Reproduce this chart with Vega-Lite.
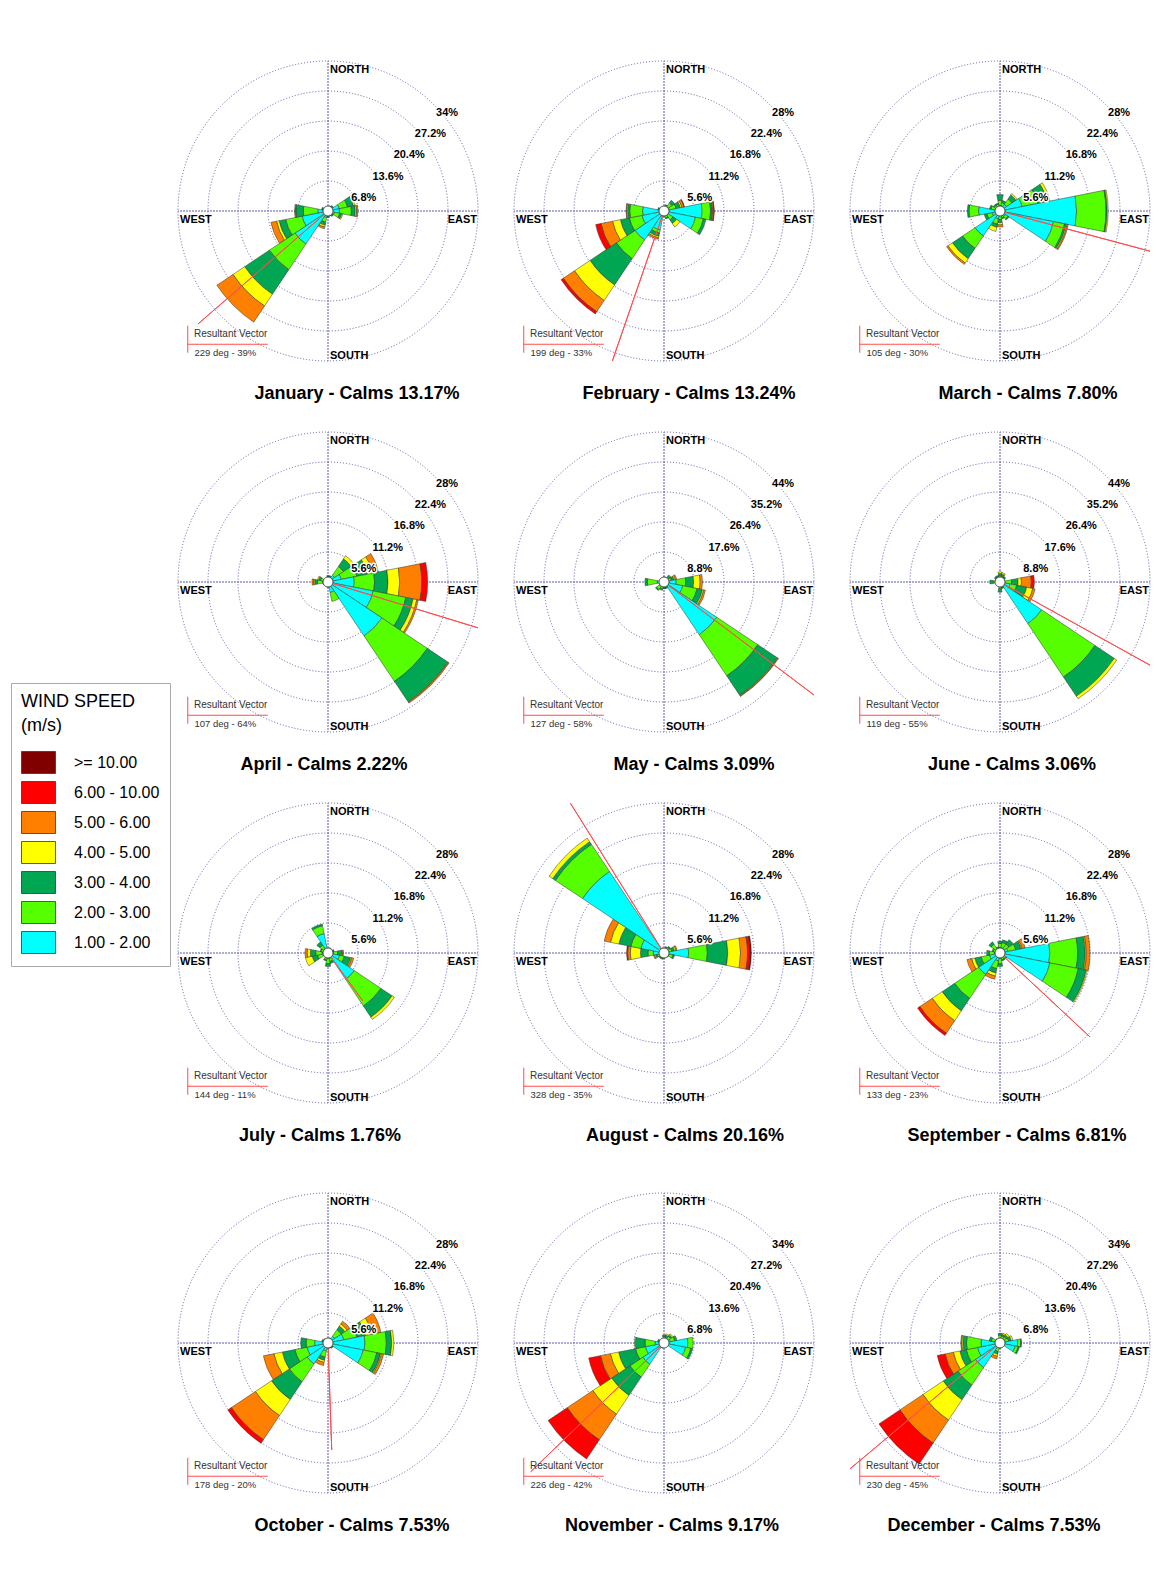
{
"$schema": "https://vega.github.io/schema/vega-lite/v6.json",
"background": "white",
"padding": {"left": 10, "top": 59, "right": 0, "bottom": 0},
"autosize": {"type": "pad"},
"bounds": "full",
"spacing": 46,
"datasets": {
"dirs": [{"d":"N","a0":-11.25,"a1":11.25},{"d":"NNE","a0":11.25,"a1":33.75},{"d":"NE","a0":33.75,"a1":56.25},{"d":"ENE","a0":56.25,"a1":78.75},{"d":"E","a0":78.75,"a1":101.25},{"d":"ESE","a0":101.25,"a1":123.75},{"d":"SE","a0":123.75,"a1":146.25},{"d":"SSE","a0":146.25,"a1":168.75},{"d":"S","a0":168.75,"a1":191.25},{"d":"SSW","a0":191.25,"a1":213.75},{"d":"SW","a0":213.75,"a1":236.25},{"d":"WSW","a0":236.25,"a1":258.75},{"d":"W","a0":258.75,"a1":281.25},{"d":"WNW","a0":281.25,"a1":303.75},{"d":"NW","a0":303.75,"a1":326.25},{"d":"NNW","a0":326.25,"a1":348.75}],
"classes": [{"s":1,"cls":"1.00 - 2.00"},{"s":2,"cls":"2.00 - 3.00"},{"s":3,"cls":"3.00 - 4.00"},{"s":4,"cls":"4.00 - 5.00"},{"s":5,"cls":"5.00 - 6.00"},{"s":6,"cls":"6.00 - 10.00"},{"s":7,"cls":">= 10.00"}],
"rings": [{"g":34,"r":6.8,"lab":"6.8%"},{"g":34,"r":13.6,"lab":"13.6%"},{"g":34,"r":20.4,"lab":"20.4%"},{"g":34,"r":27.2,"lab":"27.2%"},{"g":34,"r":34,"lab":"34%"},{"g":28,"r":5.6,"lab":"5.6%"},{"g":28,"r":11.2,"lab":"11.2%"},{"g":28,"r":16.8,"lab":"16.8%"},{"g":28,"r":22.4,"lab":"22.4%"},{"g":28,"r":28,"lab":"28%"},{"g":44,"r":8.8,"lab":"8.8%"},{"g":44,"r":17.6,"lab":"17.6%"},{"g":44,"r":26.4,"lab":"26.4%"},{"g":44,"r":35.2,"lab":"35.2%"},{"g":44,"r":44,"lab":"44%"}],
"compass": [{"lab":"NORTH","a":0},{"lab":"EAST","a":90},{"lab":"SOUTH","a":180},{"lab":"WEST","a":270}],
"rv": [{"m":1,"deg":229,"pct":39,"lab":"229 deg - 39%"},{"m":2,"deg":199,"pct":33,"lab":"199 deg - 33%"},{"m":3,"deg":105,"pct":30,"lab":"105 deg - 30%"},{"m":4,"deg":107,"pct":64,"lab":"107 deg - 64%"},{"m":5,"deg":127,"pct":58,"lab":"127 deg - 58%"},{"m":6,"deg":119,"pct":55,"lab":"119 deg - 55%"},{"m":7,"deg":144,"pct":11,"lab":"144 deg - 11%"},{"m":8,"deg":328,"pct":35,"lab":"328 deg - 35%"},{"m":9,"deg":133,"pct":23,"lab":"133 deg - 23%"},{"m":10,"deg":178,"pct":20,"lab":"178 deg - 20%"},{"m":11,"deg":226,"pct":42,"lab":"226 deg - 42%"},{"m":12,"deg":230,"pct":45,"lab":"230 deg - 45%"}],
"wind": [
{"m":1,"d":"N","s":1,"p":0.6},{"m":1,"d":"N","s":2,"p":0.4},
{"m":1,"d":"NNE","s":1,"p":0.6},{"m":1,"d":"NNE","s":2,"p":0.4},{"m":1,"d":"NNE","s":3,"p":0.2},
{"m":1,"d":"NE","s":1,"p":0.7},{"m":1,"d":"NE","s":2,"p":0.5},{"m":1,"d":"NE","s":3,"p":0.3},
{"m":1,"d":"ENE","s":1,"p":2.6},{"m":1,"d":"ENE","s":2,"p":1.9},{"m":1,"d":"ENE","s":3,"p":1.4},{"m":1,"d":"ENE","s":4,"p":0.4},
{"m":1,"d":"E","s":1,"p":2.6},{"m":1,"d":"E","s":2,"p":2.7},{"m":1,"d":"E","s":3,"p":0.9},{"m":1,"d":"E","s":4,"p":0.3},{"m":1,"d":"E","s":5,"p":0.3},
{"m":1,"d":"ESE","s":1,"p":1.5},{"m":1,"d":"ESE","s":2,"p":1.2},{"m":1,"d":"ESE","s":3,"p":0.5},{"m":1,"d":"ESE","s":4,"p":0.2},
{"m":1,"d":"SE","s":1,"p":0.8},{"m":1,"d":"SE","s":2,"p":0.5},{"m":1,"d":"SE","s":3,"p":0.2},
{"m":1,"d":"SSE","s":1,"p":0.6},{"m":1,"d":"SSE","s":2,"p":0.4},{"m":1,"d":"SSE","s":3,"p":0.2},
{"m":1,"d":"S","s":1,"p":0.7},{"m":1,"d":"S","s":2,"p":0.5},{"m":1,"d":"S","s":3,"p":0.3},
{"m":1,"d":"SSW","s":1,"p":1.5},{"m":1,"d":"SSW","s":2,"p":1.1},{"m":1,"d":"SSW","s":3,"p":0.7},{"m":1,"d":"SSW","s":4,"p":0.4},{"m":1,"d":"SSW","s":5,"p":0.4},
{"m":1,"d":"SW","s":1,"p":9},{"m":1,"d":"SW","s":2,"p":7},{"m":1,"d":"SW","s":3,"p":6.7},{"m":1,"d":"SW","s":4,"p":3.2},{"m":1,"d":"SW","s":5,"p":4.4},
{"m":1,"d":"WSW","s":1,"p":6},{"m":1,"d":"WSW","s":2,"p":3.8},{"m":1,"d":"WSW","s":3,"p":1.5},{"m":1,"d":"WSW","s":4,"p":0.6},{"m":1,"d":"WSW","s":5,"p":1.3},
{"m":1,"d":"W","s":1,"p":2.3},{"m":1,"d":"W","s":2,"p":3.3},{"m":1,"d":"W","s":3,"p":1.7},{"m":1,"d":"W","s":4,"p":0.1},{"m":1,"d":"W","s":5,"p":0.2},
{"m":1,"d":"WNW","s":1,"p":0.8},{"m":1,"d":"WNW","s":2,"p":0.5},{"m":1,"d":"WNW","s":3,"p":0.2},
{"m":1,"d":"NW","s":1,"p":0.6},{"m":1,"d":"NW","s":2,"p":0.4},
{"m":1,"d":"NNW","s":1,"p":0.5},{"m":1,"d":"NNW","s":2,"p":0.3},

{"m":2,"d":"N","s":1,"p":0.5},{"m":2,"d":"N","s":2,"p":0.3},
{"m":2,"d":"NNE","s":1,"p":0.6},{"m":2,"d":"NNE","s":2,"p":0.4},{"m":2,"d":"NNE","s":3,"p":0.2},
{"m":2,"d":"NE","s":1,"p":1},{"m":2,"d":"NE","s":2,"p":0.8},{"m":2,"d":"NE","s":3,"p":0.6},
{"m":2,"d":"ENE","s":1,"p":1},{"m":2,"d":"ENE","s":2,"p":1.3},{"m":2,"d":"ENE","s":3,"p":0.8},{"m":2,"d":"ENE","s":4,"p":0.3},{"m":2,"d":"ENE","s":5,"p":0.4},{"m":2,"d":"ENE","s":6,"p":0.1},
{"m":2,"d":"E","s":1,"p":7.1},{"m":2,"d":"E","s":2,"p":1.6},{"m":2,"d":"E","s":3,"p":0.3},{"m":2,"d":"E","s":4,"p":0.1},{"m":2,"d":"E","s":5,"p":0.2},{"m":2,"d":"E","s":6,"p":0.1},
{"m":2,"d":"ESE","s":1,"p":6},{"m":2,"d":"ESE","s":2,"p":1.5},{"m":2,"d":"ESE","s":3,"p":0.5},
{"m":2,"d":"SE","s":1,"p":1},{"m":2,"d":"SE","s":2,"p":1},{"m":2,"d":"SE","s":3,"p":0.8},{"m":2,"d":"SE","s":4,"p":0.8},
{"m":2,"d":"SSE","s":1,"p":0.8},{"m":2,"d":"SSE","s":2,"p":0.5},{"m":2,"d":"SSE","s":3,"p":0.2},
{"m":2,"d":"S","s":1,"p":0.5},{"m":2,"d":"S","s":2,"p":0.3},{"m":2,"d":"S","s":3,"p":0.2},
{"m":2,"d":"SSW","s":1,"p":3.6},{"m":2,"d":"SSW","s":2,"p":0.6},{"m":2,"d":"SSW","s":3,"p":0.6},{"m":2,"d":"SSW","s":4,"p":0.3},{"m":2,"d":"SSW","s":5,"p":0.3},
{"m":2,"d":"SW","s":1,"p":6.5},{"m":2,"d":"SW","s":2,"p":4.2},{"m":2,"d":"SW","s":3,"p":5.9},{"m":2,"d":"SW","s":4,"p":3.5},{"m":2,"d":"SW","s":5,"p":2.5},{"m":2,"d":"SW","s":6,"p":0.5},
{"m":2,"d":"WSW","s":1,"p":4.2},{"m":2,"d":"WSW","s":2,"p":2.4},{"m":2,"d":"WSW","s":3,"p":1.7},{"m":2,"d":"WSW","s":4,"p":1.5},{"m":2,"d":"WSW","s":5,"p":2.2},{"m":2,"d":"WSW","s":6,"p":1},
{"m":2,"d":"W","s":1,"p":4},{"m":2,"d":"W","s":2,"p":2.4},{"m":2,"d":"W","s":3,"p":0.4},{"m":2,"d":"W","s":4,"p":0.2},{"m":2,"d":"W","s":5,"p":0.1},
{"m":2,"d":"WNW","s":1,"p":0.6},{"m":2,"d":"WNW","s":2,"p":0.4},{"m":2,"d":"WNW","s":3,"p":0.2},
{"m":2,"d":"NW","s":1,"p":0.5},{"m":2,"d":"NW","s":2,"p":0.3},
{"m":2,"d":"NNW","s":1,"p":0.4},{"m":2,"d":"NNW","s":2,"p":0.2},

{"m":3,"d":"N","s":1,"p":1},{"m":3,"d":"N","s":2,"p":1},{"m":3,"d":"N","s":3,"p":1.1},
{"m":3,"d":"NNE","s":1,"p":1},{"m":3,"d":"NNE","s":2,"p":0.6},{"m":3,"d":"NNE","s":3,"p":0.4},
{"m":3,"d":"NE","s":1,"p":1.5},{"m":3,"d":"NE","s":2,"p":1.2},{"m":3,"d":"NE","s":3,"p":0.9},{"m":3,"d":"NE","s":4,"p":0.3},
{"m":3,"d":"ENE","s":1,"p":4.2},{"m":3,"d":"ENE","s":2,"p":3},{"m":3,"d":"ENE","s":3,"p":1.8},{"m":3,"d":"ENE","s":4,"p":0.5},
{"m":3,"d":"E","s":1,"p":14.3},{"m":3,"d":"E","s":2,"p":5.5},{"m":3,"d":"E","s":3,"p":0.2},{"m":3,"d":"E","s":4,"p":0.2},
{"m":3,"d":"ESE","s":1,"p":10.2},{"m":3,"d":"ESE","s":2,"p":2.1},{"m":3,"d":"ESE","s":3,"p":0.3},{"m":3,"d":"ESE","s":4,"p":0.2},{"m":3,"d":"ESE","s":5,"p":0.2},
{"m":3,"d":"SE","s":1,"p":1.2},{"m":3,"d":"SE","s":2,"p":0.6},{"m":3,"d":"SE","s":3,"p":0.2},
{"m":3,"d":"SSE","s":1,"p":0.8},{"m":3,"d":"SSE","s":2,"p":0.5},{"m":3,"d":"SSE","s":3,"p":0.2},
{"m":3,"d":"S","s":1,"p":0.8},{"m":3,"d":"S","s":2,"p":0.8},{"m":3,"d":"S","s":3,"p":0.6},{"m":3,"d":"S","s":4,"p":0.4},{"m":3,"d":"S","s":5,"p":0.4},
{"m":3,"d":"SSW","s":1,"p":1.5},{"m":3,"d":"SSW","s":2,"p":1},{"m":3,"d":"SSW","s":3,"p":0.6},{"m":3,"d":"SSW","s":4,"p":0.8},
{"m":3,"d":"SW","s":1,"p":5.6},{"m":3,"d":"SW","s":2,"p":2.8},{"m":3,"d":"SW","s":3,"p":2.3},{"m":3,"d":"SW","s":4,"p":1},{"m":3,"d":"SW","s":5,"p":0.3},
{"m":3,"d":"WSW","s":1,"p":1.5},{"m":3,"d":"WSW","s":2,"p":1},{"m":3,"d":"WSW","s":3,"p":0.5},
{"m":3,"d":"W","s":1,"p":4},{"m":3,"d":"W","s":2,"p":1.8},{"m":3,"d":"W","s":3,"p":0.3},
{"m":3,"d":"WNW","s":1,"p":1},{"m":3,"d":"WNW","s":2,"p":0.7},{"m":3,"d":"WNW","s":3,"p":0.3},
{"m":3,"d":"NW","s":1,"p":0.8},{"m":3,"d":"NW","s":2,"p":0.5},{"m":3,"d":"NW","s":3,"p":0.2},
{"m":3,"d":"NNW","s":1,"p":0.8},{"m":3,"d":"NNW","s":2,"p":0.5},{"m":3,"d":"NNW","s":3,"p":0.2},

{"m":4,"d":"N","s":1,"p":0.6},{"m":4,"d":"N","s":2,"p":0.4},{"m":4,"d":"N","s":3,"p":0.2},
{"m":4,"d":"NNE","s":1,"p":0.6},{"m":4,"d":"NNE","s":2,"p":0.4},{"m":4,"d":"NNE","s":3,"p":0.2},
{"m":4,"d":"NE","s":1,"p":1.5},{"m":4,"d":"NE","s":2,"p":2},{"m":4,"d":"NE","s":3,"p":1.7},{"m":4,"d":"NE","s":4,"p":0.7},
{"m":4,"d":"ENE","s":1,"p":2.5},{"m":4,"d":"ENE","s":2,"p":3},{"m":4,"d":"ENE","s":3,"p":2},{"m":4,"d":"ENE","s":4,"p":1},{"m":4,"d":"ENE","s":5,"p":1.1},
{"m":4,"d":"E","s":1,"p":4.9},{"m":4,"d":"E","s":2,"p":3.8},{"m":4,"d":"E","s":3,"p":2.5},{"m":4,"d":"E","s":4,"p":2.2},{"m":4,"d":"E","s":5,"p":4.1},{"m":4,"d":"E","s":6,"p":1.1},
{"m":4,"d":"ESE","s":1,"p":8.6},{"m":4,"d":"ESE","s":2,"p":6.2},{"m":4,"d":"ESE","s":3,"p":1.4},{"m":4,"d":"ESE","s":4,"p":0.7},{"m":4,"d":"ESE","s":5,"p":0.3},
{"m":4,"d":"SE","s":1,"p":12.1},{"m":4,"d":"SE","s":2,"p":10.2},{"m":4,"d":"SE","s":3,"p":4.6},{"m":4,"d":"SE","s":4,"p":0.1},{"m":4,"d":"SE","s":5,"p":0.2},
{"m":4,"d":"SSE","s":1,"p":2},{"m":4,"d":"SSE","s":2,"p":1.7},
{"m":4,"d":"S","s":1,"p":0.6},{"m":4,"d":"S","s":2,"p":0.4},
{"m":4,"d":"SSW","s":1,"p":0.5},{"m":4,"d":"SSW","s":2,"p":0.3},
{"m":4,"d":"SW","s":1,"p":0.4},{"m":4,"d":"SW","s":2,"p":0.2},
{"m":4,"d":"WSW","s":1,"p":0.5},{"m":4,"d":"WSW","s":2,"p":0.3},{"m":4,"d":"WSW","s":3,"p":0.2},
{"m":4,"d":"W","s":1,"p":1},{"m":4,"d":"W","s":2,"p":1},{"m":4,"d":"W","s":3,"p":0.5},{"m":4,"d":"W","s":4,"p":0.2},{"m":4,"d":"W","s":5,"p":0.3},
{"m":4,"d":"WNW","s":1,"p":0.8},{"m":4,"d":"WNW","s":2,"p":0.6},{"m":4,"d":"WNW","s":3,"p":0.4},{"m":4,"d":"WNW","s":4,"p":0.2},
{"m":4,"d":"NW","s":1,"p":0.5},{"m":4,"d":"NW","s":2,"p":0.3},
{"m":4,"d":"NNW","s":1,"p":0.4},{"m":4,"d":"NNW","s":2,"p":0.2},

{"m":5,"d":"N","s":1,"p":0.8},{"m":5,"d":"N","s":2,"p":0.5},{"m":5,"d":"N","s":3,"p":0.2},
{"m":5,"d":"NNE","s":1,"p":0.7},{"m":5,"d":"NNE","s":2,"p":0.5},{"m":5,"d":"NNE","s":3,"p":0.3},
{"m":5,"d":"NE","s":1,"p":1},{"m":5,"d":"NE","s":2,"p":0.8},{"m":5,"d":"NE","s":3,"p":0.5},{"m":5,"d":"NE","s":4,"p":0.2},
{"m":5,"d":"ENE","s":1,"p":1},{"m":5,"d":"ENE","s":2,"p":1.2},{"m":5,"d":"ENE","s":3,"p":0.8},{"m":5,"d":"ENE","s":4,"p":0.4},{"m":5,"d":"ENE","s":5,"p":0.4},
{"m":5,"d":"E","s":1,"p":3.6},{"m":5,"d":"E","s":2,"p":2.8},{"m":5,"d":"E","s":3,"p":2.3},{"m":5,"d":"E","s":4,"p":1.9},{"m":5,"d":"E","s":5,"p":0.7},
{"m":5,"d":"ESE","s":1,"p":5.6},{"m":5,"d":"ESE","s":2,"p":4.3},{"m":5,"d":"ESE","s":3,"p":1.6},{"m":5,"d":"ESE","s":4,"p":0.4},{"m":5,"d":"ESE","s":5,"p":0.5},
{"m":5,"d":"SE","s":1,"p":18.6},{"m":5,"d":"SE","s":2,"p":14.5},{"m":5,"d":"SE","s":3,"p":6.9},{"m":5,"d":"SE","s":4,"p":0.2},{"m":5,"d":"SE","s":5,"p":0.2},
{"m":5,"d":"SSE","s":1,"p":1},{"m":5,"d":"SSE","s":2,"p":0.7},{"m":5,"d":"SSE","s":3,"p":0.3},
{"m":5,"d":"S","s":1,"p":1},{"m":5,"d":"S","s":2,"p":0.7},{"m":5,"d":"S","s":3,"p":0.3},
{"m":5,"d":"SSW","s":1,"p":1.2},{"m":5,"d":"SSW","s":2,"p":0.9},{"m":5,"d":"SSW","s":3,"p":0.4},
{"m":5,"d":"SW","s":1,"p":1.5},{"m":5,"d":"SW","s":2,"p":1.2},{"m":5,"d":"SW","s":3,"p":0.3},
{"m":5,"d":"WSW","s":1,"p":0.8},{"m":5,"d":"WSW","s":2,"p":0.5},{"m":5,"d":"WSW","s":3,"p":0.2},
{"m":5,"d":"W","s":1,"p":2},{"m":5,"d":"W","s":2,"p":2.9},{"m":5,"d":"W","s":3,"p":0.7},
{"m":5,"d":"WNW","s":1,"p":0.6},{"m":5,"d":"WNW","s":2,"p":0.4},{"m":5,"d":"WNW","s":3,"p":0.2},
{"m":5,"d":"NW","s":1,"p":0.5},{"m":5,"d":"NW","s":2,"p":0.3},{"m":5,"d":"NW","s":3,"p":0.2},
{"m":5,"d":"NNW","s":1,"p":0.5},{"m":5,"d":"NNW","s":2,"p":0.3},

{"m":6,"d":"N","s":1,"p":1},{"m":6,"d":"N","s":2,"p":1},{"m":6,"d":"N","s":3,"p":0.5},{"m":6,"d":"N","s":4,"p":0.5},
{"m":6,"d":"NNE","s":1,"p":1},{"m":6,"d":"NNE","s":2,"p":0.8},{"m":6,"d":"NNE","s":3,"p":0.6},{"m":6,"d":"NNE","s":4,"p":0.4},
{"m":6,"d":"NE","s":1,"p":1},{"m":6,"d":"NE","s":2,"p":0.6},{"m":6,"d":"NE","s":3,"p":0.4},
{"m":6,"d":"ENE","s":1,"p":0.8},{"m":6,"d":"ENE","s":2,"p":0.5},{"m":6,"d":"ENE","s":3,"p":0.2},
{"m":6,"d":"E","s":1,"p":1},{"m":6,"d":"E","s":2,"p":2.4},{"m":6,"d":"E","s":3,"p":1.9},{"m":6,"d":"E","s":4,"p":1},{"m":6,"d":"E","s":5,"p":2.9},{"m":6,"d":"E","s":6,"p":0.9},
{"m":6,"d":"ESE","s":1,"p":3},{"m":6,"d":"ESE","s":2,"p":2},{"m":6,"d":"ESE","s":3,"p":3},{"m":6,"d":"ESE","s":4,"p":1.8},{"m":6,"d":"ESE","s":5,"p":0.7},
{"m":6,"d":"SE","s":1,"p":14.7},{"m":6,"d":"SE","s":2,"p":18.8},{"m":6,"d":"SE","s":3,"p":6.8},{"m":6,"d":"SE","s":4,"p":0.9},
{"m":6,"d":"SSE","s":1,"p":1},{"m":6,"d":"SSE","s":2,"p":0.7},{"m":6,"d":"SSE","s":3,"p":0.3},
{"m":6,"d":"S","s":1,"p":1},{"m":6,"d":"S","s":2,"p":1},{"m":6,"d":"S","s":3,"p":1},
{"m":6,"d":"SSW","s":1,"p":0.6},{"m":6,"d":"SSW","s":2,"p":0.4},
{"m":6,"d":"SW","s":1,"p":0.6},{"m":6,"d":"SW","s":2,"p":0.4},
{"m":6,"d":"WSW","s":1,"p":0.6},{"m":6,"d":"WSW","s":2,"p":0.4},
{"m":6,"d":"W","s":1,"p":1},{"m":6,"d":"W","s":2,"p":1},{"m":6,"d":"W","s":3,"p":1},
{"m":6,"d":"WNW","s":1,"p":0.8},{"m":6,"d":"WNW","s":2,"p":0.5},{"m":6,"d":"WNW","s":3,"p":0.2},
{"m":6,"d":"NW","s":1,"p":1},{"m":6,"d":"NW","s":2,"p":0.6},{"m":6,"d":"NW","s":3,"p":0.4},
{"m":6,"d":"NNW","s":1,"p":1},{"m":6,"d":"NNW","s":2,"p":0.6},{"m":6,"d":"NNW","s":3,"p":0.4},

{"m":7,"d":"N","s":1,"p":0.5},{"m":7,"d":"N","s":2,"p":0.3},
{"m":7,"d":"NNE","s":1,"p":0.5},{"m":7,"d":"NNE","s":2,"p":0.3},{"m":7,"d":"NNE","s":3,"p":0.2},
{"m":7,"d":"NE","s":1,"p":0.5},{"m":7,"d":"NE","s":2,"p":0.3},
{"m":7,"d":"ENE","s":1,"p":0.6},{"m":7,"d":"ENE","s":2,"p":0.4},{"m":7,"d":"ENE","s":3,"p":0.2},
{"m":7,"d":"E","s":1,"p":1},{"m":7,"d":"E","s":2,"p":0.8},{"m":7,"d":"E","s":3,"p":0.8},{"m":7,"d":"E","s":4,"p":0.1},{"m":7,"d":"E","s":5,"p":0.2},
{"m":7,"d":"ESE","s":1,"p":2.2},{"m":7,"d":"ESE","s":2,"p":0.9},{"m":7,"d":"ESE","s":3,"p":1.2},{"m":7,"d":"ESE","s":4,"p":0.2},{"m":7,"d":"ESE","s":5,"p":0.4},
{"m":7,"d":"SE","s":1,"p":5.9},{"m":7,"d":"SE","s":2,"p":6},{"m":7,"d":"SE","s":3,"p":2.5},{"m":7,"d":"SE","s":4,"p":0.5},
{"m":7,"d":"SSE","s":1,"p":1},{"m":7,"d":"SSE","s":2,"p":0.6},{"m":7,"d":"SSE","s":3,"p":0.4},
{"m":7,"d":"S","s":1,"p":1},{"m":7,"d":"S","s":2,"p":1},{"m":7,"d":"S","s":3,"p":0.5},
{"m":7,"d":"SSW","s":1,"p":0.8},{"m":7,"d":"SSW","s":2,"p":0.5},{"m":7,"d":"SSW","s":3,"p":0.2},
{"m":7,"d":"SW","s":1,"p":0.5},{"m":7,"d":"SW","s":2,"p":0.3},
{"m":7,"d":"WSW","s":1,"p":1},{"m":7,"d":"WSW","s":2,"p":1},{"m":7,"d":"WSW","s":3,"p":1},{"m":7,"d":"WSW","s":4,"p":1.3},
{"m":7,"d":"W","s":1,"p":1.1},{"m":7,"d":"W","s":2,"p":1.2},{"m":7,"d":"W","s":3,"p":1},{"m":7,"d":"W","s":4,"p":0.6},{"m":7,"d":"W","s":5,"p":0.4},
{"m":7,"d":"WNW","s":1,"p":0.8},{"m":7,"d":"WNW","s":2,"p":0.5},{"m":7,"d":"WNW","s":3,"p":0.2},
{"m":7,"d":"NW","s":1,"p":1},{"m":7,"d":"NW","s":2,"p":0.8},{"m":7,"d":"NW","s":3,"p":0.7},
{"m":7,"d":"NNW","s":1,"p":3.7},{"m":7,"d":"NNW","s":2,"p":1.5},{"m":7,"d":"NNW","s":3,"p":0.3},

{"m":8,"d":"N","s":1,"p":0.5},{"m":8,"d":"N","s":2,"p":0.3},
{"m":8,"d":"NNE","s":1,"p":0.6},{"m":8,"d":"NNE","s":2,"p":0.4},{"m":8,"d":"NNE","s":3,"p":0.2},
{"m":8,"d":"NE","s":1,"p":0.7},{"m":8,"d":"NE","s":2,"p":0.5},{"m":8,"d":"NE","s":3,"p":0.3},
{"m":8,"d":"ENE","s":1,"p":0.8},{"m":8,"d":"ENE","s":2,"p":0.7},{"m":8,"d":"ENE","s":3,"p":0.5},{"m":8,"d":"ENE","s":4,"p":0.3},{"m":8,"d":"ENE","s":5,"p":0.2},
{"m":8,"d":"E","s":1,"p":4.6},{"m":8,"d":"E","s":2,"p":3.5},{"m":8,"d":"E","s":3,"p":3.8},{"m":8,"d":"E","s":4,"p":2.4},{"m":8,"d":"E","s":5,"p":1.3},{"m":8,"d":"E","s":6,"p":0.5},{"m":8,"d":"E","s":7,"p":0.2},
{"m":8,"d":"ESE","s":1,"p":1},{"m":8,"d":"ESE","s":2,"p":0.7},{"m":8,"d":"ESE","s":3,"p":0.3},
{"m":8,"d":"SE","s":1,"p":0.6},{"m":8,"d":"SE","s":2,"p":0.4},
{"m":8,"d":"SSE","s":1,"p":0.5},{"m":8,"d":"SSE","s":2,"p":0.3},
{"m":8,"d":"S","s":1,"p":0.5},{"m":8,"d":"S","s":2,"p":0.3},{"m":8,"d":"S","s":3,"p":0.2},
{"m":8,"d":"SSW","s":1,"p":0.6},{"m":8,"d":"SSW","s":2,"p":0.4},{"m":8,"d":"SSW","s":3,"p":0.2},
{"m":8,"d":"SW","s":1,"p":0.6},{"m":8,"d":"SW","s":2,"p":0.4},{"m":8,"d":"SW","s":3,"p":0.2},
{"m":8,"d":"WSW","s":1,"p":0.8},{"m":8,"d":"WSW","s":2,"p":0.5},{"m":8,"d":"WSW","s":3,"p":0.3},{"m":8,"d":"WSW","s":4,"p":0.2},{"m":8,"d":"WSW","s":5,"p":0.2},
{"m":8,"d":"W","s":1,"p":2},{"m":8,"d":"W","s":2,"p":1},{"m":8,"d":"W","s":3,"p":1.4},{"m":8,"d":"W","s":4,"p":1.9},{"m":8,"d":"W","s":5,"p":0.5},{"m":8,"d":"W","s":6,"p":0.2},
{"m":8,"d":"WNW","s":1,"p":4.4},{"m":8,"d":"WNW","s":2,"p":1.9},{"m":8,"d":"WNW","s":3,"p":2.3},{"m":8,"d":"WNW","s":4,"p":1.6},{"m":8,"d":"WNW","s":5,"p":1.2},
{"m":8,"d":"NW","s":1,"p":18.3},{"m":8,"d":"NW","s":2,"p":6.1},{"m":8,"d":"NW","s":3,"p":0.6},{"m":8,"d":"NW","s":4,"p":0.8},
{"m":8,"d":"NNW","s":1,"p":0.6},{"m":8,"d":"NNW","s":2,"p":0.4},

{"m":9,"d":"N","s":1,"p":1},{"m":9,"d":"N","s":2,"p":0.8},{"m":9,"d":"N","s":3,"p":0.4},
{"m":9,"d":"NNE","s":1,"p":1},{"m":9,"d":"NNE","s":2,"p":1},{"m":9,"d":"NNE","s":3,"p":0.5},
{"m":9,"d":"NE","s":1,"p":1},{"m":9,"d":"NE","s":2,"p":1},{"m":9,"d":"NE","s":3,"p":1},
{"m":9,"d":"ENE","s":1,"p":1.5},{"m":9,"d":"ENE","s":2,"p":1.5},{"m":9,"d":"ENE","s":3,"p":1},{"m":9,"d":"ENE","s":4,"p":0.2},{"m":9,"d":"ENE","s":5,"p":0.6},
{"m":9,"d":"E","s":1,"p":9.3},{"m":9,"d":"E","s":2,"p":5.2},{"m":9,"d":"E","s":3,"p":1.4},{"m":9,"d":"E","s":4,"p":0.2},{"m":9,"d":"E","s":5,"p":0.7},
{"m":9,"d":"ESE","s":1,"p":9.5},{"m":9,"d":"ESE","s":2,"p":5.4},{"m":9,"d":"ESE","s":3,"p":1.5},{"m":9,"d":"ESE","s":4,"p":0.2},
{"m":9,"d":"SE","s":1,"p":0.8},{"m":9,"d":"SE","s":2,"p":0.5},{"m":9,"d":"SE","s":3,"p":0.2},
{"m":9,"d":"SSE","s":1,"p":0.8},{"m":9,"d":"SSE","s":2,"p":0.5},{"m":9,"d":"SSE","s":3,"p":0.2},
{"m":9,"d":"S","s":1,"p":1},{"m":9,"d":"S","s":2,"p":1},{"m":9,"d":"S","s":3,"p":0.5},
{"m":9,"d":"SSW","s":1,"p":1.5},{"m":9,"d":"SSW","s":2,"p":1.5},{"m":9,"d":"SSW","s":3,"p":0.8},{"m":9,"d":"SSW","s":4,"p":0.6},{"m":9,"d":"SSW","s":5,"p":0.6},
{"m":9,"d":"SW","s":1,"p":4.8},{"m":9,"d":"SW","s":2,"p":5.4},{"m":9,"d":"SW","s":3,"p":2.8},{"m":9,"d":"SW","s":4,"p":2.2},{"m":9,"d":"SW","s":5,"p":2.8},{"m":9,"d":"SW","s":6,"p":0.5},
{"m":9,"d":"WSW","s":1,"p":2},{"m":9,"d":"WSW","s":2,"p":1.6},{"m":9,"d":"WSW","s":3,"p":1.2},{"m":9,"d":"WSW","s":4,"p":0.6},{"m":9,"d":"WSW","s":5,"p":0.9},
{"m":9,"d":"W","s":1,"p":1},{"m":9,"d":"W","s":2,"p":1},{"m":9,"d":"W","s":3,"p":0.5},
{"m":9,"d":"WNW","s":1,"p":0.8},{"m":9,"d":"WNW","s":2,"p":0.5},{"m":9,"d":"WNW","s":3,"p":0.2},
{"m":9,"d":"NW","s":1,"p":1},{"m":9,"d":"NW","s":2,"p":1},{"m":9,"d":"NW","s":3,"p":0.5},
{"m":9,"d":"NNW","s":1,"p":0.6},{"m":9,"d":"NNW","s":2,"p":0.4},{"m":9,"d":"NNW","s":3,"p":0.2},

{"m":10,"d":"N","s":1,"p":0.5},{"m":10,"d":"N","s":2,"p":0.3},
{"m":10,"d":"NNE","s":1,"p":0.5},{"m":10,"d":"NNE","s":2,"p":0.3},{"m":10,"d":"NNE","s":3,"p":0.2},
{"m":10,"d":"NE","s":1,"p":1.5},{"m":10,"d":"NE","s":2,"p":1.5},{"m":10,"d":"NE","s":3,"p":0.8},{"m":10,"d":"NE","s":4,"p":0.5},{"m":10,"d":"NE","s":5,"p":0.6},
{"m":10,"d":"ENE","s":1,"p":3},{"m":10,"d":"ENE","s":2,"p":2.5},{"m":10,"d":"ENE","s":3,"p":1.6},{"m":10,"d":"ENE","s":4,"p":1.3},{"m":10,"d":"ENE","s":5,"p":1.7},
{"m":10,"d":"E","s":1,"p":6.9},{"m":10,"d":"E","s":2,"p":4},{"m":10,"d":"E","s":3,"p":1},{"m":10,"d":"E","s":4,"p":0.4},
{"m":10,"d":"ESE","s":1,"p":6.7},{"m":10,"d":"ESE","s":2,"p":2.6},{"m":10,"d":"ESE","s":3,"p":0.7},{"m":10,"d":"ESE","s":4,"p":0.2},{"m":10,"d":"ESE","s":5,"p":0.4},
{"m":10,"d":"SE","s":1,"p":0.6},{"m":10,"d":"SE","s":2,"p":0.4},{"m":10,"d":"SE","s":3,"p":0.2},
{"m":10,"d":"SSE","s":1,"p":0.5},{"m":10,"d":"SSE","s":2,"p":0.3},{"m":10,"d":"SSE","s":3,"p":0.2},
{"m":10,"d":"S","s":1,"p":0.5},{"m":10,"d":"S","s":2,"p":0.3},{"m":10,"d":"S","s":3,"p":0.2},
{"m":10,"d":"SSW","s":1,"p":1.5},{"m":10,"d":"SSW","s":2,"p":1.2},{"m":10,"d":"SSW","s":3,"p":0.6},{"m":10,"d":"SSW","s":4,"p":0.4},{"m":10,"d":"SSW","s":5,"p":0.6},
{"m":10,"d":"SW","s":1,"p":4.7},{"m":10,"d":"SW","s":2,"p":4},{"m":10,"d":"SW","s":3,"p":4},{"m":10,"d":"SW","s":4,"p":3.6},{"m":10,"d":"SW","s":5,"p":5.4},{"m":10,"d":"SW","s":6,"p":0.8},
{"m":10,"d":"WSW","s":1,"p":4},{"m":10,"d":"WSW","s":2,"p":2.3},{"m":10,"d":"WSW","s":3,"p":2.4},{"m":10,"d":"WSW","s":4,"p":1.6},{"m":10,"d":"WSW","s":5,"p":2},
{"m":10,"d":"W","s":1,"p":2.5},{"m":10,"d":"W","s":2,"p":1.6},{"m":10,"d":"W","s":3,"p":1},
{"m":10,"d":"WNW","s":1,"p":0.6},{"m":10,"d":"WNW","s":2,"p":0.4},{"m":10,"d":"WNW","s":3,"p":0.2},
{"m":10,"d":"NW","s":1,"p":0.5},{"m":10,"d":"NW","s":2,"p":0.3},{"m":10,"d":"NW","s":3,"p":0.2},
{"m":10,"d":"NNW","s":1,"p":0.5},{"m":10,"d":"NNW","s":2,"p":0.3},

{"m":11,"d":"N","s":1,"p":0.8},{"m":11,"d":"N","s":2,"p":0.7},{"m":11,"d":"N","s":3,"p":0.3},
{"m":11,"d":"NNE","s":1,"p":0.8},{"m":11,"d":"NNE","s":2,"p":0.6},{"m":11,"d":"NNE","s":3,"p":0.4},{"m":11,"d":"NNE","s":4,"p":0.3},
{"m":11,"d":"NE","s":1,"p":1},{"m":11,"d":"NE","s":2,"p":0.8},{"m":11,"d":"NE","s":3,"p":0.4},{"m":11,"d":"NE","s":4,"p":0.3},
{"m":11,"d":"ENE","s":1,"p":1.5},{"m":11,"d":"ENE","s":2,"p":1},{"m":11,"d":"ENE","s":3,"p":0.5},
{"m":11,"d":"E","s":1,"p":5.4},{"m":11,"d":"E","s":2,"p":1.2},
{"m":11,"d":"ESE","s":1,"p":5},{"m":11,"d":"ESE","s":2,"p":1.2},{"m":11,"d":"ESE","s":3,"p":0.4},
{"m":11,"d":"SE","s":1,"p":0.6},{"m":11,"d":"SE","s":2,"p":0.4},
{"m":11,"d":"SSE","s":1,"p":0.5},{"m":11,"d":"SSE","s":2,"p":0.3},
{"m":11,"d":"S","s":1,"p":0.6},{"m":11,"d":"S","s":2,"p":0.4},
{"m":11,"d":"SSW","s":1,"p":0.6},{"m":11,"d":"SSW","s":2,"p":0.4},{"m":11,"d":"SSW","s":3,"p":0.2},
{"m":11,"d":"SW","s":1,"p":5.8},{"m":11,"d":"SW","s":2,"p":3.5},{"m":11,"d":"SW","s":3,"p":5},{"m":11,"d":"SW","s":4,"p":5.1},{"m":11,"d":"SW","s":5,"p":7},{"m":11,"d":"SW","s":6,"p":5.2},
{"m":11,"d":"WSW","s":1,"p":4.3},{"m":11,"d":"WSW","s":2,"p":2.3},{"m":11,"d":"WSW","s":3,"p":3.9},{"m":11,"d":"WSW","s":4,"p":1.9},{"m":11,"d":"WSW","s":5,"p":2.3},{"m":11,"d":"WSW","s":6,"p":2.7},
{"m":11,"d":"W","s":1,"p":2},{"m":11,"d":"W","s":2,"p":2.3},{"m":11,"d":"W","s":3,"p":2.2},{"m":11,"d":"W","s":4,"p":0.2},
{"m":11,"d":"WNW","s":1,"p":0.8},{"m":11,"d":"WNW","s":2,"p":0.5},{"m":11,"d":"WNW","s":3,"p":0.2},
{"m":11,"d":"NW","s":1,"p":0.6},{"m":11,"d":"NW","s":2,"p":0.4},
{"m":11,"d":"NNW","s":1,"p":0.5},{"m":11,"d":"NNW","s":2,"p":0.3},

{"m":12,"d":"N","s":1,"p":1},{"m":12,"d":"N","s":2,"p":0.8},{"m":12,"d":"N","s":3,"p":0.4},
{"m":12,"d":"NNE","s":1,"p":1},{"m":12,"d":"NNE","s":2,"p":0.6},{"m":12,"d":"NNE","s":3,"p":0.4},{"m":12,"d":"NNE","s":4,"p":0.3},
{"m":12,"d":"NE","s":1,"p":1},{"m":12,"d":"NE","s":2,"p":0.7},{"m":12,"d":"NE","s":3,"p":0.5},{"m":12,"d":"NE","s":4,"p":0.4},
{"m":12,"d":"ENE","s":1,"p":1.2},{"m":12,"d":"ENE","s":2,"p":0.8},{"m":12,"d":"ENE","s":3,"p":0.6},{"m":12,"d":"ENE","s":4,"p":0.4},
{"m":12,"d":"E","s":1,"p":4},{"m":12,"d":"E","s":2,"p":0.7},{"m":12,"d":"E","s":3,"p":0.2},
{"m":12,"d":"ESE","s":1,"p":3.5},{"m":12,"d":"ESE","s":2,"p":0.7},{"m":12,"d":"ESE","s":3,"p":0.3},
{"m":12,"d":"SE","s":1,"p":0.6},{"m":12,"d":"SE","s":2,"p":0.4},
{"m":12,"d":"SSE","s":1,"p":0.6},{"m":12,"d":"SSE","s":2,"p":0.4},
{"m":12,"d":"S","s":1,"p":0.6},{"m":12,"d":"S","s":2,"p":0.4},{"m":12,"d":"S","s":3,"p":0.2},
{"m":12,"d":"SSW","s":1,"p":1},{"m":12,"d":"SSW","s":2,"p":1},{"m":12,"d":"SSW","s":3,"p":0.6},{"m":12,"d":"SSW","s":4,"p":0.5},{"m":12,"d":"SSW","s":5,"p":0.6},
{"m":12,"d":"SW","s":1,"p":6.7},{"m":12,"d":"SW","s":2,"p":4.8},{"m":12,"d":"SW","s":3,"p":4},{"m":12,"d":"SW","s":4,"p":5.5},{"m":12,"d":"SW","s":5,"p":6.3},{"m":12,"d":"SW","s":6,"p":5.7},
{"m":12,"d":"WSW","s":1,"p":5.2},{"m":12,"d":"WSW","s":2,"p":2.6},{"m":12,"d":"WSW","s":3,"p":1.5},{"m":12,"d":"WSW","s":4,"p":1.5},{"m":12,"d":"WSW","s":5,"p":1.9},{"m":12,"d":"WSW","s":6,"p":1.8},
{"m":12,"d":"W","s":1,"p":4.3},{"m":12,"d":"W","s":2,"p":3.3},{"m":12,"d":"W","s":3,"p":0.8},{"m":12,"d":"W","s":4,"p":0.3},{"m":12,"d":"W","s":5,"p":0.2},
{"m":12,"d":"WNW","s":1,"p":1.2},{"m":12,"d":"WNW","s":2,"p":0.8},{"m":12,"d":"WNW","s":3,"p":0.5},
{"m":12,"d":"NW","s":1,"p":0.6},{"m":12,"d":"NW","s":2,"p":0.4},{"m":12,"d":"NW","s":3,"p":0.2},
{"m":12,"d":"NNW","s":1,"p":0.6},{"m":12,"d":"NNW","s":2,"p":0.4}
]
},
"vconcat": [
{"columns": 3, "spacing": {"row": 71, "column": 36}, "bounds": "flush",
"resolve": {"scale": {"theta": "independent", "radius": "independent", "stroke": "independent"}, "legend": {"stroke": "independent"}},
"concat": [
{"width":300,"height":300,"title":{"text":"January - Calms 13.17%","dx":29},"layer":[
{"data":{"name":"rings"},"transform":[{"filter":"datum.g==34"}],"mark":{"type":"arc","theta":0,"theta2":6.2832,"filled":false,"stroke":"#5a5ab4","strokeWidth":1,"strokeDash":[1,2]},"encoding":{"radius":{"field":"r","type":"quantitative","stack":null,"scale":{"type":"linear","domain":[0,34],"range":[0,150],"nice":false,"zero":true}}}},
{"data":{"name":"compass"},"mark":{"type":"arc","filled":false,"stroke":"#5a5ab4","strokeWidth":1,"strokeDash":[1,2]},"encoding":{"theta":{"field":"a","type":"quantitative","stack":null,"scale":{"type":"linear","domain":[0,360],"range":[0,6.283185307179586],"nice":false,"zero":false}},"theta2":{"field":"a"},"radius":{"datum":34,"type":"quantitative"}}},
{"data":{"name":"wind"},"transform":[{"filter":"datum.m==1"},{"lookup":"d","from":{"data":{"name":"dirs"},"key":"d","fields":["a0","a1"]}},{"lookup":"s","from":{"data":{"name":"classes"},"key":"s","fields":["cls"]}},{"stack":"p","groupby":["d"],"sort":[{"field":"s","order":"ascending"}],"as":["r0","r1"]}],"mark":{"type":"arc","stroke":"#333333","strokeWidth":0.5},"encoding":{"theta":{"field":"a0","type":"quantitative","stack":null},"theta2":{"field":"a1"},"radius":{"field":"r1","type":"quantitative","stack":null},"radius2":{"field":"r0"},"color":{"field":"cls","type":"nominal","scale":{"domain":[">= 10.00","6.00 - 10.00","5.00 - 6.00","4.00 - 5.00","3.00 - 4.00","2.00 - 3.00","1.00 - 2.00"],"range":["#800000","#ff0000","#ff8000","#ffff00","#00a651","#55ff00","#00ffff"]},"legend":{"orient":"none","legendX":-167,"legendY":622,"title":["WIND SPEED","(m/s)"],"titleFont":"Liberation Sans","titleFontSize":18,"titleFontWeight":"normal","titleColor":"#000000","titleLineHeight":24,"titlePadding":16,"labelFont":"Liberation Sans","labelFontSize":16,"labelColor":"#000000","labelOffset":30,"symbolType":"M-1,-1H2.09V1H-1Z","symbolSize":484,"symbolStrokeColor":"#000000","symbolStrokeWidth":0.8,"symbolOpacity":1,"rowPadding":3,"padding":10,"strokeColor":"#aaaaaa","fillColor":"#ffffff"}}}},
{"data":{"name":"rv"},"transform":[{"filter":"datum.m==1"}],"mark":{"type":"arc","clip":true,"filled":false,"strokeWidth":1},"encoding":{"theta":{"field":"deg","type":"quantitative","stack":null},"theta2":{"field":"deg"},"radius":{"field":"pct","type":"quantitative","stack":null},"stroke":{"field":"lab","type":"nominal","scale":{"range":["#ff4d4d"]},"legend":{"orient":"none","legendX":16,"legendY":268,"title":"Resultant Vector","titleFont":"Liberation Sans","titleFontSize":10,"titleFontWeight":"normal","titleColor":"#333333","titlePadding":9,"labelFont":"Liberation Sans","labelFontSize":9.5,"labelColor":"#333333","labelOffset":-9,"symbolType":"M-11,-27V0M-11,-8.5H69","symbolSize":4,"symbolStrokeWidth":1,"symbolFillColor":"transparent","padding":0}}}},
{"data":{"name":"rv"},"transform":[{"filter":"datum.m==1"}],"mark":{"type":"arc","radius":5,"theta":0,"theta2":6.2832,"fill":"#ffffff","stroke":"#333333","strokeWidth":0.8},"encoding":{}},
{"data":{"name":"compass"},"mark":{"type":"text","font":"Liberation Sans","fontWeight":"bold","fontSize":11,"color":"#000000","align":{"expr":"datum.a==90?'right':'left'"},"baseline":{"expr":"datum.a==180?'alphabetic':'top'"},"dx":{"expr":"datum.a==90?-1:2"},"dy":{"expr":"datum.a==180?-2:3"}},"encoding":{"theta":{"field":"a","type":"quantitative","stack":null},"radius":{"datum":34,"type":"quantitative"},"text":{"field":"lab"}}},
{"data":{"name":"rings"},"transform":[{"filter":"datum.g==34"}],"mark":{"type":"text","font":"Liberation Sans","fontWeight":"bold","fontSize":11,"align":"left","baseline":"top","dx":2,"dy":2,"stroke":"#ffffff","strokeWidth":3,"strokeJoin":"round"},"encoding":{"theta":{"datum":45,"type":"quantitative"},"radius":{"field":"r","type":"quantitative","stack":null},"text":{"field":"lab"}}},
{"data":{"name":"rings"},"transform":[{"filter":"datum.g==34"}],"mark":{"type":"text","font":"Liberation Sans","fontWeight":"bold","fontSize":11,"align":"left","baseline":"top","dx":2,"dy":2,"color":"#000000"},"encoding":{"theta":{"datum":45,"type":"quantitative"},"radius":{"field":"r","type":"quantitative","stack":null},"text":{"field":"lab"}}}
]},
{"width":300,"height":300,"title":{"text":"February - Calms 13.24%","dx":25},"layer":[
{"data":{"name":"rings"},"transform":[{"filter":"datum.g==28"}],"mark":{"type":"arc","theta":0,"theta2":6.2832,"filled":false,"stroke":"#5a5ab4","strokeWidth":1,"strokeDash":[1,2]},"encoding":{"radius":{"field":"r","type":"quantitative","stack":null,"scale":{"type":"linear","domain":[0,28],"range":[0,150],"nice":false,"zero":true}}}},
{"data":{"name":"compass"},"mark":{"type":"arc","filled":false,"stroke":"#5a5ab4","strokeWidth":1,"strokeDash":[1,2]},"encoding":{"theta":{"field":"a","type":"quantitative","stack":null,"scale":{"type":"linear","domain":[0,360],"range":[0,6.283185307179586],"nice":false,"zero":false}},"theta2":{"field":"a"},"radius":{"datum":28,"type":"quantitative"}}},
{"data":{"name":"wind"},"transform":[{"filter":"datum.m==2"},{"lookup":"d","from":{"data":{"name":"dirs"},"key":"d","fields":["a0","a1"]}},{"lookup":"s","from":{"data":{"name":"classes"},"key":"s","fields":["cls"]}},{"stack":"p","groupby":["d"],"sort":[{"field":"s","order":"ascending"}],"as":["r0","r1"]}],"mark":{"type":"arc","stroke":"#333333","strokeWidth":0.5},"encoding":{"theta":{"field":"a0","type":"quantitative","stack":null},"theta2":{"field":"a1"},"radius":{"field":"r1","type":"quantitative","stack":null},"radius2":{"field":"r0"},"color":{"field":"cls","type":"nominal","scale":{"domain":[">= 10.00","6.00 - 10.00","5.00 - 6.00","4.00 - 5.00","3.00 - 4.00","2.00 - 3.00","1.00 - 2.00"],"range":["#800000","#ff0000","#ff8000","#ffff00","#00a651","#55ff00","#00ffff"]}}}},
{"data":{"name":"rv"},"transform":[{"filter":"datum.m==2"}],"mark":{"type":"arc","clip":true,"filled":false,"strokeWidth":1},"encoding":{"theta":{"field":"deg","type":"quantitative","stack":null},"theta2":{"field":"deg"},"radius":{"field":"pct","type":"quantitative","stack":null},"stroke":{"field":"lab","type":"nominal","scale":{"range":["#ff4d4d"]},"legend":{"orient":"none","legendX":16,"legendY":268,"title":"Resultant Vector","titleFont":"Liberation Sans","titleFontSize":10,"titleFontWeight":"normal","titleColor":"#333333","titlePadding":9,"labelFont":"Liberation Sans","labelFontSize":9.5,"labelColor":"#333333","labelOffset":-9,"symbolType":"M-11,-27V0M-11,-8.5H69","symbolSize":4,"symbolStrokeWidth":1,"symbolFillColor":"transparent","padding":0}}}},
{"data":{"name":"rv"},"transform":[{"filter":"datum.m==2"}],"mark":{"type":"arc","radius":5,"theta":0,"theta2":6.2832,"fill":"#ffffff","stroke":"#333333","strokeWidth":0.8},"encoding":{}},
{"data":{"name":"compass"},"mark":{"type":"text","font":"Liberation Sans","fontWeight":"bold","fontSize":11,"color":"#000000","align":{"expr":"datum.a==90?'right':'left'"},"baseline":{"expr":"datum.a==180?'alphabetic':'top'"},"dx":{"expr":"datum.a==90?-1:2"},"dy":{"expr":"datum.a==180?-2:3"}},"encoding":{"theta":{"field":"a","type":"quantitative","stack":null},"radius":{"datum":28,"type":"quantitative"},"text":{"field":"lab"}}},
{"data":{"name":"rings"},"transform":[{"filter":"datum.g==28"}],"mark":{"type":"text","font":"Liberation Sans","fontWeight":"bold","fontSize":11,"align":"left","baseline":"top","dx":2,"dy":2,"stroke":"#ffffff","strokeWidth":3,"strokeJoin":"round"},"encoding":{"theta":{"datum":45,"type":"quantitative"},"radius":{"field":"r","type":"quantitative","stack":null},"text":{"field":"lab"}}},
{"data":{"name":"rings"},"transform":[{"filter":"datum.g==28"}],"mark":{"type":"text","font":"Liberation Sans","fontWeight":"bold","fontSize":11,"align":"left","baseline":"top","dx":2,"dy":2,"color":"#000000"},"encoding":{"theta":{"datum":45,"type":"quantitative"},"radius":{"field":"r","type":"quantitative","stack":null},"text":{"field":"lab"}}}
]},
{"width":300,"height":300,"title":{"text":"March - Calms 7.80%","dx":28},"layer":[
{"data":{"name":"rings"},"transform":[{"filter":"datum.g==28"}],"mark":{"type":"arc","theta":0,"theta2":6.2832,"filled":false,"stroke":"#5a5ab4","strokeWidth":1,"strokeDash":[1,2]},"encoding":{"radius":{"field":"r","type":"quantitative","stack":null,"scale":{"type":"linear","domain":[0,28],"range":[0,150],"nice":false,"zero":true}}}},
{"data":{"name":"compass"},"mark":{"type":"arc","filled":false,"stroke":"#5a5ab4","strokeWidth":1,"strokeDash":[1,2]},"encoding":{"theta":{"field":"a","type":"quantitative","stack":null,"scale":{"type":"linear","domain":[0,360],"range":[0,6.283185307179586],"nice":false,"zero":false}},"theta2":{"field":"a"},"radius":{"datum":28,"type":"quantitative"}}},
{"data":{"name":"wind"},"transform":[{"filter":"datum.m==3"},{"lookup":"d","from":{"data":{"name":"dirs"},"key":"d","fields":["a0","a1"]}},{"lookup":"s","from":{"data":{"name":"classes"},"key":"s","fields":["cls"]}},{"stack":"p","groupby":["d"],"sort":[{"field":"s","order":"ascending"}],"as":["r0","r1"]}],"mark":{"type":"arc","stroke":"#333333","strokeWidth":0.5},"encoding":{"theta":{"field":"a0","type":"quantitative","stack":null},"theta2":{"field":"a1"},"radius":{"field":"r1","type":"quantitative","stack":null},"radius2":{"field":"r0"},"color":{"field":"cls","type":"nominal","scale":{"domain":[">= 10.00","6.00 - 10.00","5.00 - 6.00","4.00 - 5.00","3.00 - 4.00","2.00 - 3.00","1.00 - 2.00"],"range":["#800000","#ff0000","#ff8000","#ffff00","#00a651","#55ff00","#00ffff"]}}}},
{"data":{"name":"rv"},"transform":[{"filter":"datum.m==3"}],"mark":{"type":"arc","clip":true,"filled":false,"strokeWidth":1},"encoding":{"theta":{"field":"deg","type":"quantitative","stack":null},"theta2":{"field":"deg"},"radius":{"field":"pct","type":"quantitative","stack":null},"stroke":{"field":"lab","type":"nominal","scale":{"range":["#ff4d4d"]},"legend":{"orient":"none","legendX":16,"legendY":268,"title":"Resultant Vector","titleFont":"Liberation Sans","titleFontSize":10,"titleFontWeight":"normal","titleColor":"#333333","titlePadding":9,"labelFont":"Liberation Sans","labelFontSize":9.5,"labelColor":"#333333","labelOffset":-9,"symbolType":"M-11,-27V0M-11,-8.5H69","symbolSize":4,"symbolStrokeWidth":1,"symbolFillColor":"transparent","padding":0}}}},
{"data":{"name":"rv"},"transform":[{"filter":"datum.m==3"}],"mark":{"type":"arc","radius":5,"theta":0,"theta2":6.2832,"fill":"#ffffff","stroke":"#333333","strokeWidth":0.8},"encoding":{}},
{"data":{"name":"compass"},"mark":{"type":"text","font":"Liberation Sans","fontWeight":"bold","fontSize":11,"color":"#000000","align":{"expr":"datum.a==90?'right':'left'"},"baseline":{"expr":"datum.a==180?'alphabetic':'top'"},"dx":{"expr":"datum.a==90?-1:2"},"dy":{"expr":"datum.a==180?-2:3"}},"encoding":{"theta":{"field":"a","type":"quantitative","stack":null},"radius":{"datum":28,"type":"quantitative"},"text":{"field":"lab"}}},
{"data":{"name":"rings"},"transform":[{"filter":"datum.g==28"}],"mark":{"type":"text","font":"Liberation Sans","fontWeight":"bold","fontSize":11,"align":"left","baseline":"top","dx":2,"dy":2,"stroke":"#ffffff","strokeWidth":3,"strokeJoin":"round"},"encoding":{"theta":{"datum":45,"type":"quantitative"},"radius":{"field":"r","type":"quantitative","stack":null},"text":{"field":"lab"}}},
{"data":{"name":"rings"},"transform":[{"filter":"datum.g==28"}],"mark":{"type":"text","font":"Liberation Sans","fontWeight":"bold","fontSize":11,"align":"left","baseline":"top","dx":2,"dy":2,"color":"#000000"},"encoding":{"theta":{"datum":45,"type":"quantitative"},"radius":{"field":"r","type":"quantitative","stack":null},"text":{"field":"lab"}}}
]},
{"width":300,"height":300,"title":{"text":"April - Calms 2.22%","dx":-4},"layer":[
{"data":{"name":"rings"},"transform":[{"filter":"datum.g==28"}],"mark":{"type":"arc","theta":0,"theta2":6.2832,"filled":false,"stroke":"#5a5ab4","strokeWidth":1,"strokeDash":[1,2]},"encoding":{"radius":{"field":"r","type":"quantitative","stack":null,"scale":{"type":"linear","domain":[0,28],"range":[0,150],"nice":false,"zero":true}}}},
{"data":{"name":"compass"},"mark":{"type":"arc","filled":false,"stroke":"#5a5ab4","strokeWidth":1,"strokeDash":[1,2]},"encoding":{"theta":{"field":"a","type":"quantitative","stack":null,"scale":{"type":"linear","domain":[0,360],"range":[0,6.283185307179586],"nice":false,"zero":false}},"theta2":{"field":"a"},"radius":{"datum":28,"type":"quantitative"}}},
{"data":{"name":"wind"},"transform":[{"filter":"datum.m==4"},{"lookup":"d","from":{"data":{"name":"dirs"},"key":"d","fields":["a0","a1"]}},{"lookup":"s","from":{"data":{"name":"classes"},"key":"s","fields":["cls"]}},{"stack":"p","groupby":["d"],"sort":[{"field":"s","order":"ascending"}],"as":["r0","r1"]}],"mark":{"type":"arc","stroke":"#333333","strokeWidth":0.5},"encoding":{"theta":{"field":"a0","type":"quantitative","stack":null},"theta2":{"field":"a1"},"radius":{"field":"r1","type":"quantitative","stack":null},"radius2":{"field":"r0"},"color":{"field":"cls","type":"nominal","scale":{"domain":[">= 10.00","6.00 - 10.00","5.00 - 6.00","4.00 - 5.00","3.00 - 4.00","2.00 - 3.00","1.00 - 2.00"],"range":["#800000","#ff0000","#ff8000","#ffff00","#00a651","#55ff00","#00ffff"]}}}},
{"data":{"name":"rv"},"transform":[{"filter":"datum.m==4"}],"mark":{"type":"arc","clip":true,"filled":false,"strokeWidth":1},"encoding":{"theta":{"field":"deg","type":"quantitative","stack":null},"theta2":{"field":"deg"},"radius":{"field":"pct","type":"quantitative","stack":null},"stroke":{"field":"lab","type":"nominal","scale":{"range":["#ff4d4d"]},"legend":{"orient":"none","legendX":16,"legendY":268,"title":"Resultant Vector","titleFont":"Liberation Sans","titleFontSize":10,"titleFontWeight":"normal","titleColor":"#333333","titlePadding":9,"labelFont":"Liberation Sans","labelFontSize":9.5,"labelColor":"#333333","labelOffset":-9,"symbolType":"M-11,-27V0M-11,-8.5H69","symbolSize":4,"symbolStrokeWidth":1,"symbolFillColor":"transparent","padding":0}}}},
{"data":{"name":"rv"},"transform":[{"filter":"datum.m==4"}],"mark":{"type":"arc","radius":5,"theta":0,"theta2":6.2832,"fill":"#ffffff","stroke":"#333333","strokeWidth":0.8},"encoding":{}},
{"data":{"name":"compass"},"mark":{"type":"text","font":"Liberation Sans","fontWeight":"bold","fontSize":11,"color":"#000000","align":{"expr":"datum.a==90?'right':'left'"},"baseline":{"expr":"datum.a==180?'alphabetic':'top'"},"dx":{"expr":"datum.a==90?-1:2"},"dy":{"expr":"datum.a==180?-2:3"}},"encoding":{"theta":{"field":"a","type":"quantitative","stack":null},"radius":{"datum":28,"type":"quantitative"},"text":{"field":"lab"}}},
{"data":{"name":"rings"},"transform":[{"filter":"datum.g==28"}],"mark":{"type":"text","font":"Liberation Sans","fontWeight":"bold","fontSize":11,"align":"left","baseline":"top","dx":2,"dy":2,"stroke":"#ffffff","strokeWidth":3,"strokeJoin":"round"},"encoding":{"theta":{"datum":45,"type":"quantitative"},"radius":{"field":"r","type":"quantitative","stack":null},"text":{"field":"lab"}}},
{"data":{"name":"rings"},"transform":[{"filter":"datum.g==28"}],"mark":{"type":"text","font":"Liberation Sans","fontWeight":"bold","fontSize":11,"align":"left","baseline":"top","dx":2,"dy":2,"color":"#000000"},"encoding":{"theta":{"datum":45,"type":"quantitative"},"radius":{"field":"r","type":"quantitative","stack":null},"text":{"field":"lab"}}}
]},
{"width":300,"height":300,"title":{"text":"May - Calms 3.09%","dx":30},"layer":[
{"data":{"name":"rings"},"transform":[{"filter":"datum.g==44"}],"mark":{"type":"arc","theta":0,"theta2":6.2832,"filled":false,"stroke":"#5a5ab4","strokeWidth":1,"strokeDash":[1,2]},"encoding":{"radius":{"field":"r","type":"quantitative","stack":null,"scale":{"type":"linear","domain":[0,44],"range":[0,150],"nice":false,"zero":true}}}},
{"data":{"name":"compass"},"mark":{"type":"arc","filled":false,"stroke":"#5a5ab4","strokeWidth":1,"strokeDash":[1,2]},"encoding":{"theta":{"field":"a","type":"quantitative","stack":null,"scale":{"type":"linear","domain":[0,360],"range":[0,6.283185307179586],"nice":false,"zero":false}},"theta2":{"field":"a"},"radius":{"datum":44,"type":"quantitative"}}},
{"data":{"name":"wind"},"transform":[{"filter":"datum.m==5"},{"lookup":"d","from":{"data":{"name":"dirs"},"key":"d","fields":["a0","a1"]}},{"lookup":"s","from":{"data":{"name":"classes"},"key":"s","fields":["cls"]}},{"stack":"p","groupby":["d"],"sort":[{"field":"s","order":"ascending"}],"as":["r0","r1"]}],"mark":{"type":"arc","stroke":"#333333","strokeWidth":0.5},"encoding":{"theta":{"field":"a0","type":"quantitative","stack":null},"theta2":{"field":"a1"},"radius":{"field":"r1","type":"quantitative","stack":null},"radius2":{"field":"r0"},"color":{"field":"cls","type":"nominal","scale":{"domain":[">= 10.00","6.00 - 10.00","5.00 - 6.00","4.00 - 5.00","3.00 - 4.00","2.00 - 3.00","1.00 - 2.00"],"range":["#800000","#ff0000","#ff8000","#ffff00","#00a651","#55ff00","#00ffff"]}}}},
{"data":{"name":"rv"},"transform":[{"filter":"datum.m==5"}],"mark":{"type":"arc","clip":true,"filled":false,"strokeWidth":1},"encoding":{"theta":{"field":"deg","type":"quantitative","stack":null},"theta2":{"field":"deg"},"radius":{"field":"pct","type":"quantitative","stack":null},"stroke":{"field":"lab","type":"nominal","scale":{"range":["#ff4d4d"]},"legend":{"orient":"none","legendX":16,"legendY":268,"title":"Resultant Vector","titleFont":"Liberation Sans","titleFontSize":10,"titleFontWeight":"normal","titleColor":"#333333","titlePadding":9,"labelFont":"Liberation Sans","labelFontSize":9.5,"labelColor":"#333333","labelOffset":-9,"symbolType":"M-11,-27V0M-11,-8.5H69","symbolSize":4,"symbolStrokeWidth":1,"symbolFillColor":"transparent","padding":0}}}},
{"data":{"name":"rv"},"transform":[{"filter":"datum.m==5"}],"mark":{"type":"arc","radius":5,"theta":0,"theta2":6.2832,"fill":"#ffffff","stroke":"#333333","strokeWidth":0.8},"encoding":{}},
{"data":{"name":"compass"},"mark":{"type":"text","font":"Liberation Sans","fontWeight":"bold","fontSize":11,"color":"#000000","align":{"expr":"datum.a==90?'right':'left'"},"baseline":{"expr":"datum.a==180?'alphabetic':'top'"},"dx":{"expr":"datum.a==90?-1:2"},"dy":{"expr":"datum.a==180?-2:3"}},"encoding":{"theta":{"field":"a","type":"quantitative","stack":null},"radius":{"datum":44,"type":"quantitative"},"text":{"field":"lab"}}},
{"data":{"name":"rings"},"transform":[{"filter":"datum.g==44"}],"mark":{"type":"text","font":"Liberation Sans","fontWeight":"bold","fontSize":11,"align":"left","baseline":"top","dx":2,"dy":2,"stroke":"#ffffff","strokeWidth":3,"strokeJoin":"round"},"encoding":{"theta":{"datum":45,"type":"quantitative"},"radius":{"field":"r","type":"quantitative","stack":null},"text":{"field":"lab"}}},
{"data":{"name":"rings"},"transform":[{"filter":"datum.g==44"}],"mark":{"type":"text","font":"Liberation Sans","fontWeight":"bold","fontSize":11,"align":"left","baseline":"top","dx":2,"dy":2,"color":"#000000"},"encoding":{"theta":{"datum":45,"type":"quantitative"},"radius":{"field":"r","type":"quantitative","stack":null},"text":{"field":"lab"}}}
]},
{"width":300,"height":300,"title":{"text":"June - Calms 3.06%","dx":12},"layer":[
{"data":{"name":"rings"},"transform":[{"filter":"datum.g==44"}],"mark":{"type":"arc","theta":0,"theta2":6.2832,"filled":false,"stroke":"#5a5ab4","strokeWidth":1,"strokeDash":[1,2]},"encoding":{"radius":{"field":"r","type":"quantitative","stack":null,"scale":{"type":"linear","domain":[0,44],"range":[0,150],"nice":false,"zero":true}}}},
{"data":{"name":"compass"},"mark":{"type":"arc","filled":false,"stroke":"#5a5ab4","strokeWidth":1,"strokeDash":[1,2]},"encoding":{"theta":{"field":"a","type":"quantitative","stack":null,"scale":{"type":"linear","domain":[0,360],"range":[0,6.283185307179586],"nice":false,"zero":false}},"theta2":{"field":"a"},"radius":{"datum":44,"type":"quantitative"}}},
{"data":{"name":"wind"},"transform":[{"filter":"datum.m==6"},{"lookup":"d","from":{"data":{"name":"dirs"},"key":"d","fields":["a0","a1"]}},{"lookup":"s","from":{"data":{"name":"classes"},"key":"s","fields":["cls"]}},{"stack":"p","groupby":["d"],"sort":[{"field":"s","order":"ascending"}],"as":["r0","r1"]}],"mark":{"type":"arc","stroke":"#333333","strokeWidth":0.5},"encoding":{"theta":{"field":"a0","type":"quantitative","stack":null},"theta2":{"field":"a1"},"radius":{"field":"r1","type":"quantitative","stack":null},"radius2":{"field":"r0"},"color":{"field":"cls","type":"nominal","scale":{"domain":[">= 10.00","6.00 - 10.00","5.00 - 6.00","4.00 - 5.00","3.00 - 4.00","2.00 - 3.00","1.00 - 2.00"],"range":["#800000","#ff0000","#ff8000","#ffff00","#00a651","#55ff00","#00ffff"]}}}},
{"data":{"name":"rv"},"transform":[{"filter":"datum.m==6"}],"mark":{"type":"arc","clip":true,"filled":false,"strokeWidth":1},"encoding":{"theta":{"field":"deg","type":"quantitative","stack":null},"theta2":{"field":"deg"},"radius":{"field":"pct","type":"quantitative","stack":null},"stroke":{"field":"lab","type":"nominal","scale":{"range":["#ff4d4d"]},"legend":{"orient":"none","legendX":16,"legendY":268,"title":"Resultant Vector","titleFont":"Liberation Sans","titleFontSize":10,"titleFontWeight":"normal","titleColor":"#333333","titlePadding":9,"labelFont":"Liberation Sans","labelFontSize":9.5,"labelColor":"#333333","labelOffset":-9,"symbolType":"M-11,-27V0M-11,-8.5H69","symbolSize":4,"symbolStrokeWidth":1,"symbolFillColor":"transparent","padding":0}}}},
{"data":{"name":"rv"},"transform":[{"filter":"datum.m==6"}],"mark":{"type":"arc","radius":5,"theta":0,"theta2":6.2832,"fill":"#ffffff","stroke":"#333333","strokeWidth":0.8},"encoding":{}},
{"data":{"name":"compass"},"mark":{"type":"text","font":"Liberation Sans","fontWeight":"bold","fontSize":11,"color":"#000000","align":{"expr":"datum.a==90?'right':'left'"},"baseline":{"expr":"datum.a==180?'alphabetic':'top'"},"dx":{"expr":"datum.a==90?-1:2"},"dy":{"expr":"datum.a==180?-2:3"}},"encoding":{"theta":{"field":"a","type":"quantitative","stack":null},"radius":{"datum":44,"type":"quantitative"},"text":{"field":"lab"}}},
{"data":{"name":"rings"},"transform":[{"filter":"datum.g==44"}],"mark":{"type":"text","font":"Liberation Sans","fontWeight":"bold","fontSize":11,"align":"left","baseline":"top","dx":2,"dy":2,"stroke":"#ffffff","strokeWidth":3,"strokeJoin":"round"},"encoding":{"theta":{"datum":45,"type":"quantitative"},"radius":{"field":"r","type":"quantitative","stack":null},"text":{"field":"lab"}}},
{"data":{"name":"rings"},"transform":[{"filter":"datum.g==44"}],"mark":{"type":"text","font":"Liberation Sans","fontWeight":"bold","fontSize":11,"align":"left","baseline":"top","dx":2,"dy":2,"color":"#000000"},"encoding":{"theta":{"datum":45,"type":"quantitative"},"radius":{"field":"r","type":"quantitative","stack":null},"text":{"field":"lab"}}}
]},
{"width":300,"height":300,"title":{"text":"July - Calms 1.76%","dx":-8},"layer":[
{"data":{"name":"rings"},"transform":[{"filter":"datum.g==28"}],"mark":{"type":"arc","theta":0,"theta2":6.2832,"filled":false,"stroke":"#5a5ab4","strokeWidth":1,"strokeDash":[1,2]},"encoding":{"radius":{"field":"r","type":"quantitative","stack":null,"scale":{"type":"linear","domain":[0,28],"range":[0,150],"nice":false,"zero":true}}}},
{"data":{"name":"compass"},"mark":{"type":"arc","filled":false,"stroke":"#5a5ab4","strokeWidth":1,"strokeDash":[1,2]},"encoding":{"theta":{"field":"a","type":"quantitative","stack":null,"scale":{"type":"linear","domain":[0,360],"range":[0,6.283185307179586],"nice":false,"zero":false}},"theta2":{"field":"a"},"radius":{"datum":28,"type":"quantitative"}}},
{"data":{"name":"wind"},"transform":[{"filter":"datum.m==7"},{"lookup":"d","from":{"data":{"name":"dirs"},"key":"d","fields":["a0","a1"]}},{"lookup":"s","from":{"data":{"name":"classes"},"key":"s","fields":["cls"]}},{"stack":"p","groupby":["d"],"sort":[{"field":"s","order":"ascending"}],"as":["r0","r1"]}],"mark":{"type":"arc","stroke":"#333333","strokeWidth":0.5},"encoding":{"theta":{"field":"a0","type":"quantitative","stack":null},"theta2":{"field":"a1"},"radius":{"field":"r1","type":"quantitative","stack":null},"radius2":{"field":"r0"},"color":{"field":"cls","type":"nominal","scale":{"domain":[">= 10.00","6.00 - 10.00","5.00 - 6.00","4.00 - 5.00","3.00 - 4.00","2.00 - 3.00","1.00 - 2.00"],"range":["#800000","#ff0000","#ff8000","#ffff00","#00a651","#55ff00","#00ffff"]}}}},
{"data":{"name":"rv"},"transform":[{"filter":"datum.m==7"}],"mark":{"type":"arc","clip":true,"filled":false,"strokeWidth":1},"encoding":{"theta":{"field":"deg","type":"quantitative","stack":null},"theta2":{"field":"deg"},"radius":{"field":"pct","type":"quantitative","stack":null},"stroke":{"field":"lab","type":"nominal","scale":{"range":["#ff4d4d"]},"legend":{"orient":"none","legendX":16,"legendY":268,"title":"Resultant Vector","titleFont":"Liberation Sans","titleFontSize":10,"titleFontWeight":"normal","titleColor":"#333333","titlePadding":9,"labelFont":"Liberation Sans","labelFontSize":9.5,"labelColor":"#333333","labelOffset":-9,"symbolType":"M-11,-27V0M-11,-8.5H69","symbolSize":4,"symbolStrokeWidth":1,"symbolFillColor":"transparent","padding":0}}}},
{"data":{"name":"rv"},"transform":[{"filter":"datum.m==7"}],"mark":{"type":"arc","radius":5,"theta":0,"theta2":6.2832,"fill":"#ffffff","stroke":"#333333","strokeWidth":0.8},"encoding":{}},
{"data":{"name":"compass"},"mark":{"type":"text","font":"Liberation Sans","fontWeight":"bold","fontSize":11,"color":"#000000","align":{"expr":"datum.a==90?'right':'left'"},"baseline":{"expr":"datum.a==180?'alphabetic':'top'"},"dx":{"expr":"datum.a==90?-1:2"},"dy":{"expr":"datum.a==180?-2:3"}},"encoding":{"theta":{"field":"a","type":"quantitative","stack":null},"radius":{"datum":28,"type":"quantitative"},"text":{"field":"lab"}}},
{"data":{"name":"rings"},"transform":[{"filter":"datum.g==28"}],"mark":{"type":"text","font":"Liberation Sans","fontWeight":"bold","fontSize":11,"align":"left","baseline":"top","dx":2,"dy":2,"stroke":"#ffffff","strokeWidth":3,"strokeJoin":"round"},"encoding":{"theta":{"datum":45,"type":"quantitative"},"radius":{"field":"r","type":"quantitative","stack":null},"text":{"field":"lab"}}},
{"data":{"name":"rings"},"transform":[{"filter":"datum.g==28"}],"mark":{"type":"text","font":"Liberation Sans","fontWeight":"bold","fontSize":11,"align":"left","baseline":"top","dx":2,"dy":2,"color":"#000000"},"encoding":{"theta":{"datum":45,"type":"quantitative"},"radius":{"field":"r","type":"quantitative","stack":null},"text":{"field":"lab"}}}
]},
{"width":300,"height":300,"title":{"text":"August - Calms 20.16%","dx":21},"layer":[
{"data":{"name":"rings"},"transform":[{"filter":"datum.g==28"}],"mark":{"type":"arc","theta":0,"theta2":6.2832,"filled":false,"stroke":"#5a5ab4","strokeWidth":1,"strokeDash":[1,2]},"encoding":{"radius":{"field":"r","type":"quantitative","stack":null,"scale":{"type":"linear","domain":[0,28],"range":[0,150],"nice":false,"zero":true}}}},
{"data":{"name":"compass"},"mark":{"type":"arc","filled":false,"stroke":"#5a5ab4","strokeWidth":1,"strokeDash":[1,2]},"encoding":{"theta":{"field":"a","type":"quantitative","stack":null,"scale":{"type":"linear","domain":[0,360],"range":[0,6.283185307179586],"nice":false,"zero":false}},"theta2":{"field":"a"},"radius":{"datum":28,"type":"quantitative"}}},
{"data":{"name":"wind"},"transform":[{"filter":"datum.m==8"},{"lookup":"d","from":{"data":{"name":"dirs"},"key":"d","fields":["a0","a1"]}},{"lookup":"s","from":{"data":{"name":"classes"},"key":"s","fields":["cls"]}},{"stack":"p","groupby":["d"],"sort":[{"field":"s","order":"ascending"}],"as":["r0","r1"]}],"mark":{"type":"arc","stroke":"#333333","strokeWidth":0.5},"encoding":{"theta":{"field":"a0","type":"quantitative","stack":null},"theta2":{"field":"a1"},"radius":{"field":"r1","type":"quantitative","stack":null},"radius2":{"field":"r0"},"color":{"field":"cls","type":"nominal","scale":{"domain":[">= 10.00","6.00 - 10.00","5.00 - 6.00","4.00 - 5.00","3.00 - 4.00","2.00 - 3.00","1.00 - 2.00"],"range":["#800000","#ff0000","#ff8000","#ffff00","#00a651","#55ff00","#00ffff"]}}}},
{"data":{"name":"rv"},"transform":[{"filter":"datum.m==8"}],"mark":{"type":"arc","clip":true,"filled":false,"strokeWidth":1},"encoding":{"theta":{"field":"deg","type":"quantitative","stack":null},"theta2":{"field":"deg"},"radius":{"field":"pct","type":"quantitative","stack":null},"stroke":{"field":"lab","type":"nominal","scale":{"range":["#ff4d4d"]},"legend":{"orient":"none","legendX":16,"legendY":268,"title":"Resultant Vector","titleFont":"Liberation Sans","titleFontSize":10,"titleFontWeight":"normal","titleColor":"#333333","titlePadding":9,"labelFont":"Liberation Sans","labelFontSize":9.5,"labelColor":"#333333","labelOffset":-9,"symbolType":"M-11,-27V0M-11,-8.5H69","symbolSize":4,"symbolStrokeWidth":1,"symbolFillColor":"transparent","padding":0}}}},
{"data":{"name":"rv"},"transform":[{"filter":"datum.m==8"}],"mark":{"type":"arc","radius":5,"theta":0,"theta2":6.2832,"fill":"#ffffff","stroke":"#333333","strokeWidth":0.8},"encoding":{}},
{"data":{"name":"compass"},"mark":{"type":"text","font":"Liberation Sans","fontWeight":"bold","fontSize":11,"color":"#000000","align":{"expr":"datum.a==90?'right':'left'"},"baseline":{"expr":"datum.a==180?'alphabetic':'top'"},"dx":{"expr":"datum.a==90?-1:2"},"dy":{"expr":"datum.a==180?-2:3"}},"encoding":{"theta":{"field":"a","type":"quantitative","stack":null},"radius":{"datum":28,"type":"quantitative"},"text":{"field":"lab"}}},
{"data":{"name":"rings"},"transform":[{"filter":"datum.g==28"}],"mark":{"type":"text","font":"Liberation Sans","fontWeight":"bold","fontSize":11,"align":"left","baseline":"top","dx":2,"dy":2,"stroke":"#ffffff","strokeWidth":3,"strokeJoin":"round"},"encoding":{"theta":{"datum":45,"type":"quantitative"},"radius":{"field":"r","type":"quantitative","stack":null},"text":{"field":"lab"}}},
{"data":{"name":"rings"},"transform":[{"filter":"datum.g==28"}],"mark":{"type":"text","font":"Liberation Sans","fontWeight":"bold","fontSize":11,"align":"left","baseline":"top","dx":2,"dy":2,"color":"#000000"},"encoding":{"theta":{"datum":45,"type":"quantitative"},"radius":{"field":"r","type":"quantitative","stack":null},"text":{"field":"lab"}}}
]},
{"width":300,"height":300,"title":{"text":"September - Calms 6.81%","dx":17},"layer":[
{"data":{"name":"rings"},"transform":[{"filter":"datum.g==28"}],"mark":{"type":"arc","theta":0,"theta2":6.2832,"filled":false,"stroke":"#5a5ab4","strokeWidth":1,"strokeDash":[1,2]},"encoding":{"radius":{"field":"r","type":"quantitative","stack":null,"scale":{"type":"linear","domain":[0,28],"range":[0,150],"nice":false,"zero":true}}}},
{"data":{"name":"compass"},"mark":{"type":"arc","filled":false,"stroke":"#5a5ab4","strokeWidth":1,"strokeDash":[1,2]},"encoding":{"theta":{"field":"a","type":"quantitative","stack":null,"scale":{"type":"linear","domain":[0,360],"range":[0,6.283185307179586],"nice":false,"zero":false}},"theta2":{"field":"a"},"radius":{"datum":28,"type":"quantitative"}}},
{"data":{"name":"wind"},"transform":[{"filter":"datum.m==9"},{"lookup":"d","from":{"data":{"name":"dirs"},"key":"d","fields":["a0","a1"]}},{"lookup":"s","from":{"data":{"name":"classes"},"key":"s","fields":["cls"]}},{"stack":"p","groupby":["d"],"sort":[{"field":"s","order":"ascending"}],"as":["r0","r1"]}],"mark":{"type":"arc","stroke":"#333333","strokeWidth":0.5},"encoding":{"theta":{"field":"a0","type":"quantitative","stack":null},"theta2":{"field":"a1"},"radius":{"field":"r1","type":"quantitative","stack":null},"radius2":{"field":"r0"},"color":{"field":"cls","type":"nominal","scale":{"domain":[">= 10.00","6.00 - 10.00","5.00 - 6.00","4.00 - 5.00","3.00 - 4.00","2.00 - 3.00","1.00 - 2.00"],"range":["#800000","#ff0000","#ff8000","#ffff00","#00a651","#55ff00","#00ffff"]}}}},
{"data":{"name":"rv"},"transform":[{"filter":"datum.m==9"}],"mark":{"type":"arc","clip":true,"filled":false,"strokeWidth":1},"encoding":{"theta":{"field":"deg","type":"quantitative","stack":null},"theta2":{"field":"deg"},"radius":{"field":"pct","type":"quantitative","stack":null},"stroke":{"field":"lab","type":"nominal","scale":{"range":["#ff4d4d"]},"legend":{"orient":"none","legendX":16,"legendY":268,"title":"Resultant Vector","titleFont":"Liberation Sans","titleFontSize":10,"titleFontWeight":"normal","titleColor":"#333333","titlePadding":9,"labelFont":"Liberation Sans","labelFontSize":9.5,"labelColor":"#333333","labelOffset":-9,"symbolType":"M-11,-27V0M-11,-8.5H69","symbolSize":4,"symbolStrokeWidth":1,"symbolFillColor":"transparent","padding":0}}}},
{"data":{"name":"rv"},"transform":[{"filter":"datum.m==9"}],"mark":{"type":"arc","radius":5,"theta":0,"theta2":6.2832,"fill":"#ffffff","stroke":"#333333","strokeWidth":0.8},"encoding":{}},
{"data":{"name":"compass"},"mark":{"type":"text","font":"Liberation Sans","fontWeight":"bold","fontSize":11,"color":"#000000","align":{"expr":"datum.a==90?'right':'left'"},"baseline":{"expr":"datum.a==180?'alphabetic':'top'"},"dx":{"expr":"datum.a==90?-1:2"},"dy":{"expr":"datum.a==180?-2:3"}},"encoding":{"theta":{"field":"a","type":"quantitative","stack":null},"radius":{"datum":28,"type":"quantitative"},"text":{"field":"lab"}}},
{"data":{"name":"rings"},"transform":[{"filter":"datum.g==28"}],"mark":{"type":"text","font":"Liberation Sans","fontWeight":"bold","fontSize":11,"align":"left","baseline":"top","dx":2,"dy":2,"stroke":"#ffffff","strokeWidth":3,"strokeJoin":"round"},"encoding":{"theta":{"datum":45,"type":"quantitative"},"radius":{"field":"r","type":"quantitative","stack":null},"text":{"field":"lab"}}},
{"data":{"name":"rings"},"transform":[{"filter":"datum.g==28"}],"mark":{"type":"text","font":"Liberation Sans","fontWeight":"bold","fontSize":11,"align":"left","baseline":"top","dx":2,"dy":2,"color":"#000000"},"encoding":{"theta":{"datum":45,"type":"quantitative"},"radius":{"field":"r","type":"quantitative","stack":null},"text":{"field":"lab"}}}
]}
]},
{"spacing": 36, "bounds": "flush",
"resolve": {"scale": {"theta": "independent", "radius": "independent", "stroke": "independent"}, "legend": {"stroke": "independent"}},
"hconcat": [
{"width":300,"height":300,"title":{"text":"October - Calms 7.53%","dx":24},"layer":[
{"data":{"name":"rings"},"transform":[{"filter":"datum.g==28"}],"mark":{"type":"arc","theta":0,"theta2":6.2832,"filled":false,"stroke":"#5a5ab4","strokeWidth":1,"strokeDash":[1,2]},"encoding":{"radius":{"field":"r","type":"quantitative","stack":null,"scale":{"type":"linear","domain":[0,28],"range":[0,150],"nice":false,"zero":true}}}},
{"data":{"name":"compass"},"mark":{"type":"arc","filled":false,"stroke":"#5a5ab4","strokeWidth":1,"strokeDash":[1,2]},"encoding":{"theta":{"field":"a","type":"quantitative","stack":null,"scale":{"type":"linear","domain":[0,360],"range":[0,6.283185307179586],"nice":false,"zero":false}},"theta2":{"field":"a"},"radius":{"datum":28,"type":"quantitative"}}},
{"data":{"name":"wind"},"transform":[{"filter":"datum.m==10"},{"lookup":"d","from":{"data":{"name":"dirs"},"key":"d","fields":["a0","a1"]}},{"lookup":"s","from":{"data":{"name":"classes"},"key":"s","fields":["cls"]}},{"stack":"p","groupby":["d"],"sort":[{"field":"s","order":"ascending"}],"as":["r0","r1"]}],"mark":{"type":"arc","stroke":"#333333","strokeWidth":0.5},"encoding":{"theta":{"field":"a0","type":"quantitative","stack":null},"theta2":{"field":"a1"},"radius":{"field":"r1","type":"quantitative","stack":null},"radius2":{"field":"r0"},"color":{"field":"cls","type":"nominal","scale":{"domain":[">= 10.00","6.00 - 10.00","5.00 - 6.00","4.00 - 5.00","3.00 - 4.00","2.00 - 3.00","1.00 - 2.00"],"range":["#800000","#ff0000","#ff8000","#ffff00","#00a651","#55ff00","#00ffff"]}}}},
{"data":{"name":"rv"},"transform":[{"filter":"datum.m==10"}],"mark":{"type":"arc","clip":true,"filled":false,"strokeWidth":1},"encoding":{"theta":{"field":"deg","type":"quantitative","stack":null},"theta2":{"field":"deg"},"radius":{"field":"pct","type":"quantitative","stack":null},"stroke":{"field":"lab","type":"nominal","scale":{"range":["#ff4d4d"]},"legend":{"orient":"none","legendX":16,"legendY":268,"title":"Resultant Vector","titleFont":"Liberation Sans","titleFontSize":10,"titleFontWeight":"normal","titleColor":"#333333","titlePadding":9,"labelFont":"Liberation Sans","labelFontSize":9.5,"labelColor":"#333333","labelOffset":-9,"symbolType":"M-11,-27V0M-11,-8.5H69","symbolSize":4,"symbolStrokeWidth":1,"symbolFillColor":"transparent","padding":0}}}},
{"data":{"name":"rv"},"transform":[{"filter":"datum.m==10"}],"mark":{"type":"arc","radius":5,"theta":0,"theta2":6.2832,"fill":"#ffffff","stroke":"#333333","strokeWidth":0.8},"encoding":{}},
{"data":{"name":"compass"},"mark":{"type":"text","font":"Liberation Sans","fontWeight":"bold","fontSize":11,"color":"#000000","align":{"expr":"datum.a==90?'right':'left'"},"baseline":{"expr":"datum.a==180?'alphabetic':'top'"},"dx":{"expr":"datum.a==90?-1:2"},"dy":{"expr":"datum.a==180?-2:3"}},"encoding":{"theta":{"field":"a","type":"quantitative","stack":null},"radius":{"datum":28,"type":"quantitative"},"text":{"field":"lab"}}},
{"data":{"name":"rings"},"transform":[{"filter":"datum.g==28"}],"mark":{"type":"text","font":"Liberation Sans","fontWeight":"bold","fontSize":11,"align":"left","baseline":"top","dx":2,"dy":2,"stroke":"#ffffff","strokeWidth":3,"strokeJoin":"round"},"encoding":{"theta":{"datum":45,"type":"quantitative"},"radius":{"field":"r","type":"quantitative","stack":null},"text":{"field":"lab"}}},
{"data":{"name":"rings"},"transform":[{"filter":"datum.g==28"}],"mark":{"type":"text","font":"Liberation Sans","fontWeight":"bold","fontSize":11,"align":"left","baseline":"top","dx":2,"dy":2,"color":"#000000"},"encoding":{"theta":{"datum":45,"type":"quantitative"},"radius":{"field":"r","type":"quantitative","stack":null},"text":{"field":"lab"}}}
]},
{"width":300,"height":300,"title":{"text":"November - Calms 9.17%","dx":8},"layer":[
{"data":{"name":"rings"},"transform":[{"filter":"datum.g==34"}],"mark":{"type":"arc","theta":0,"theta2":6.2832,"filled":false,"stroke":"#5a5ab4","strokeWidth":1,"strokeDash":[1,2]},"encoding":{"radius":{"field":"r","type":"quantitative","stack":null,"scale":{"type":"linear","domain":[0,34],"range":[0,150],"nice":false,"zero":true}}}},
{"data":{"name":"compass"},"mark":{"type":"arc","filled":false,"stroke":"#5a5ab4","strokeWidth":1,"strokeDash":[1,2]},"encoding":{"theta":{"field":"a","type":"quantitative","stack":null,"scale":{"type":"linear","domain":[0,360],"range":[0,6.283185307179586],"nice":false,"zero":false}},"theta2":{"field":"a"},"radius":{"datum":34,"type":"quantitative"}}},
{"data":{"name":"wind"},"transform":[{"filter":"datum.m==11"},{"lookup":"d","from":{"data":{"name":"dirs"},"key":"d","fields":["a0","a1"]}},{"lookup":"s","from":{"data":{"name":"classes"},"key":"s","fields":["cls"]}},{"stack":"p","groupby":["d"],"sort":[{"field":"s","order":"ascending"}],"as":["r0","r1"]}],"mark":{"type":"arc","stroke":"#333333","strokeWidth":0.5},"encoding":{"theta":{"field":"a0","type":"quantitative","stack":null},"theta2":{"field":"a1"},"radius":{"field":"r1","type":"quantitative","stack":null},"radius2":{"field":"r0"},"color":{"field":"cls","type":"nominal","scale":{"domain":[">= 10.00","6.00 - 10.00","5.00 - 6.00","4.00 - 5.00","3.00 - 4.00","2.00 - 3.00","1.00 - 2.00"],"range":["#800000","#ff0000","#ff8000","#ffff00","#00a651","#55ff00","#00ffff"]}}}},
{"data":{"name":"rv"},"transform":[{"filter":"datum.m==11"}],"mark":{"type":"arc","clip":true,"filled":false,"strokeWidth":1},"encoding":{"theta":{"field":"deg","type":"quantitative","stack":null},"theta2":{"field":"deg"},"radius":{"field":"pct","type":"quantitative","stack":null},"stroke":{"field":"lab","type":"nominal","scale":{"range":["#ff4d4d"]},"legend":{"orient":"none","legendX":16,"legendY":268,"title":"Resultant Vector","titleFont":"Liberation Sans","titleFontSize":10,"titleFontWeight":"normal","titleColor":"#333333","titlePadding":9,"labelFont":"Liberation Sans","labelFontSize":9.5,"labelColor":"#333333","labelOffset":-9,"symbolType":"M-11,-27V0M-11,-8.5H69","symbolSize":4,"symbolStrokeWidth":1,"symbolFillColor":"transparent","padding":0}}}},
{"data":{"name":"rv"},"transform":[{"filter":"datum.m==11"}],"mark":{"type":"arc","radius":5,"theta":0,"theta2":6.2832,"fill":"#ffffff","stroke":"#333333","strokeWidth":0.8},"encoding":{}},
{"data":{"name":"compass"},"mark":{"type":"text","font":"Liberation Sans","fontWeight":"bold","fontSize":11,"color":"#000000","align":{"expr":"datum.a==90?'right':'left'"},"baseline":{"expr":"datum.a==180?'alphabetic':'top'"},"dx":{"expr":"datum.a==90?-1:2"},"dy":{"expr":"datum.a==180?-2:3"}},"encoding":{"theta":{"field":"a","type":"quantitative","stack":null},"radius":{"datum":34,"type":"quantitative"},"text":{"field":"lab"}}},
{"data":{"name":"rings"},"transform":[{"filter":"datum.g==34"}],"mark":{"type":"text","font":"Liberation Sans","fontWeight":"bold","fontSize":11,"align":"left","baseline":"top","dx":2,"dy":2,"stroke":"#ffffff","strokeWidth":3,"strokeJoin":"round"},"encoding":{"theta":{"datum":45,"type":"quantitative"},"radius":{"field":"r","type":"quantitative","stack":null},"text":{"field":"lab"}}},
{"data":{"name":"rings"},"transform":[{"filter":"datum.g==34"}],"mark":{"type":"text","font":"Liberation Sans","fontWeight":"bold","fontSize":11,"align":"left","baseline":"top","dx":2,"dy":2,"color":"#000000"},"encoding":{"theta":{"datum":45,"type":"quantitative"},"radius":{"field":"r","type":"quantitative","stack":null},"text":{"field":"lab"}}}
]},
{"width":300,"height":300,"title":{"text":"December - Calms 7.53%","dx":-6},"layer":[
{"data":{"name":"rings"},"transform":[{"filter":"datum.g==34"}],"mark":{"type":"arc","theta":0,"theta2":6.2832,"filled":false,"stroke":"#5a5ab4","strokeWidth":1,"strokeDash":[1,2]},"encoding":{"radius":{"field":"r","type":"quantitative","stack":null,"scale":{"type":"linear","domain":[0,34],"range":[0,150],"nice":false,"zero":true}}}},
{"data":{"name":"compass"},"mark":{"type":"arc","filled":false,"stroke":"#5a5ab4","strokeWidth":1,"strokeDash":[1,2]},"encoding":{"theta":{"field":"a","type":"quantitative","stack":null,"scale":{"type":"linear","domain":[0,360],"range":[0,6.283185307179586],"nice":false,"zero":false}},"theta2":{"field":"a"},"radius":{"datum":34,"type":"quantitative"}}},
{"data":{"name":"wind"},"transform":[{"filter":"datum.m==12"},{"lookup":"d","from":{"data":{"name":"dirs"},"key":"d","fields":["a0","a1"]}},{"lookup":"s","from":{"data":{"name":"classes"},"key":"s","fields":["cls"]}},{"stack":"p","groupby":["d"],"sort":[{"field":"s","order":"ascending"}],"as":["r0","r1"]}],"mark":{"type":"arc","stroke":"#333333","strokeWidth":0.5},"encoding":{"theta":{"field":"a0","type":"quantitative","stack":null},"theta2":{"field":"a1"},"radius":{"field":"r1","type":"quantitative","stack":null},"radius2":{"field":"r0"},"color":{"field":"cls","type":"nominal","scale":{"domain":[">= 10.00","6.00 - 10.00","5.00 - 6.00","4.00 - 5.00","3.00 - 4.00","2.00 - 3.00","1.00 - 2.00"],"range":["#800000","#ff0000","#ff8000","#ffff00","#00a651","#55ff00","#00ffff"]}}}},
{"data":{"name":"rv"},"transform":[{"filter":"datum.m==12"}],"mark":{"type":"arc","clip":true,"filled":false,"strokeWidth":1},"encoding":{"theta":{"field":"deg","type":"quantitative","stack":null},"theta2":{"field":"deg"},"radius":{"field":"pct","type":"quantitative","stack":null},"stroke":{"field":"lab","type":"nominal","scale":{"range":["#ff4d4d"]},"legend":{"orient":"none","legendX":16,"legendY":268,"title":"Resultant Vector","titleFont":"Liberation Sans","titleFontSize":10,"titleFontWeight":"normal","titleColor":"#333333","titlePadding":9,"labelFont":"Liberation Sans","labelFontSize":9.5,"labelColor":"#333333","labelOffset":-9,"symbolType":"M-11,-27V0M-11,-8.5H69","symbolSize":4,"symbolStrokeWidth":1,"symbolFillColor":"transparent","padding":0}}}},
{"data":{"name":"rv"},"transform":[{"filter":"datum.m==12"}],"mark":{"type":"arc","radius":5,"theta":0,"theta2":6.2832,"fill":"#ffffff","stroke":"#333333","strokeWidth":0.8},"encoding":{}},
{"data":{"name":"compass"},"mark":{"type":"text","font":"Liberation Sans","fontWeight":"bold","fontSize":11,"color":"#000000","align":{"expr":"datum.a==90?'right':'left'"},"baseline":{"expr":"datum.a==180?'alphabetic':'top'"},"dx":{"expr":"datum.a==90?-1:2"},"dy":{"expr":"datum.a==180?-2:3"}},"encoding":{"theta":{"field":"a","type":"quantitative","stack":null},"radius":{"datum":34,"type":"quantitative"},"text":{"field":"lab"}}},
{"data":{"name":"rings"},"transform":[{"filter":"datum.g==34"}],"mark":{"type":"text","font":"Liberation Sans","fontWeight":"bold","fontSize":11,"align":"left","baseline":"top","dx":2,"dy":2,"stroke":"#ffffff","strokeWidth":3,"strokeJoin":"round"},"encoding":{"theta":{"datum":45,"type":"quantitative"},"radius":{"field":"r","type":"quantitative","stack":null},"text":{"field":"lab"}}},
{"data":{"name":"rings"},"transform":[{"filter":"datum.g==34"}],"mark":{"type":"text","font":"Liberation Sans","fontWeight":"bold","fontSize":11,"align":"left","baseline":"top","dx":2,"dy":2,"color":"#000000"},"encoding":{"theta":{"datum":45,"type":"quantitative"},"radius":{"field":"r","type":"quantitative","stack":null},"text":{"field":"lab"}}}
]}
]}
],
"resolve": {"scale": {"theta": "independent", "radius": "independent", "stroke": "independent"}, "legend": {"stroke": "independent"}},
"config": {
"view": {"stroke": null},
"title": {"orient": "bottom", "anchor": "middle", "offset": 22, "font": "Liberation Sans", "fontSize": 18, "fontWeight": "bold", "color": "#000000"}
}
}
